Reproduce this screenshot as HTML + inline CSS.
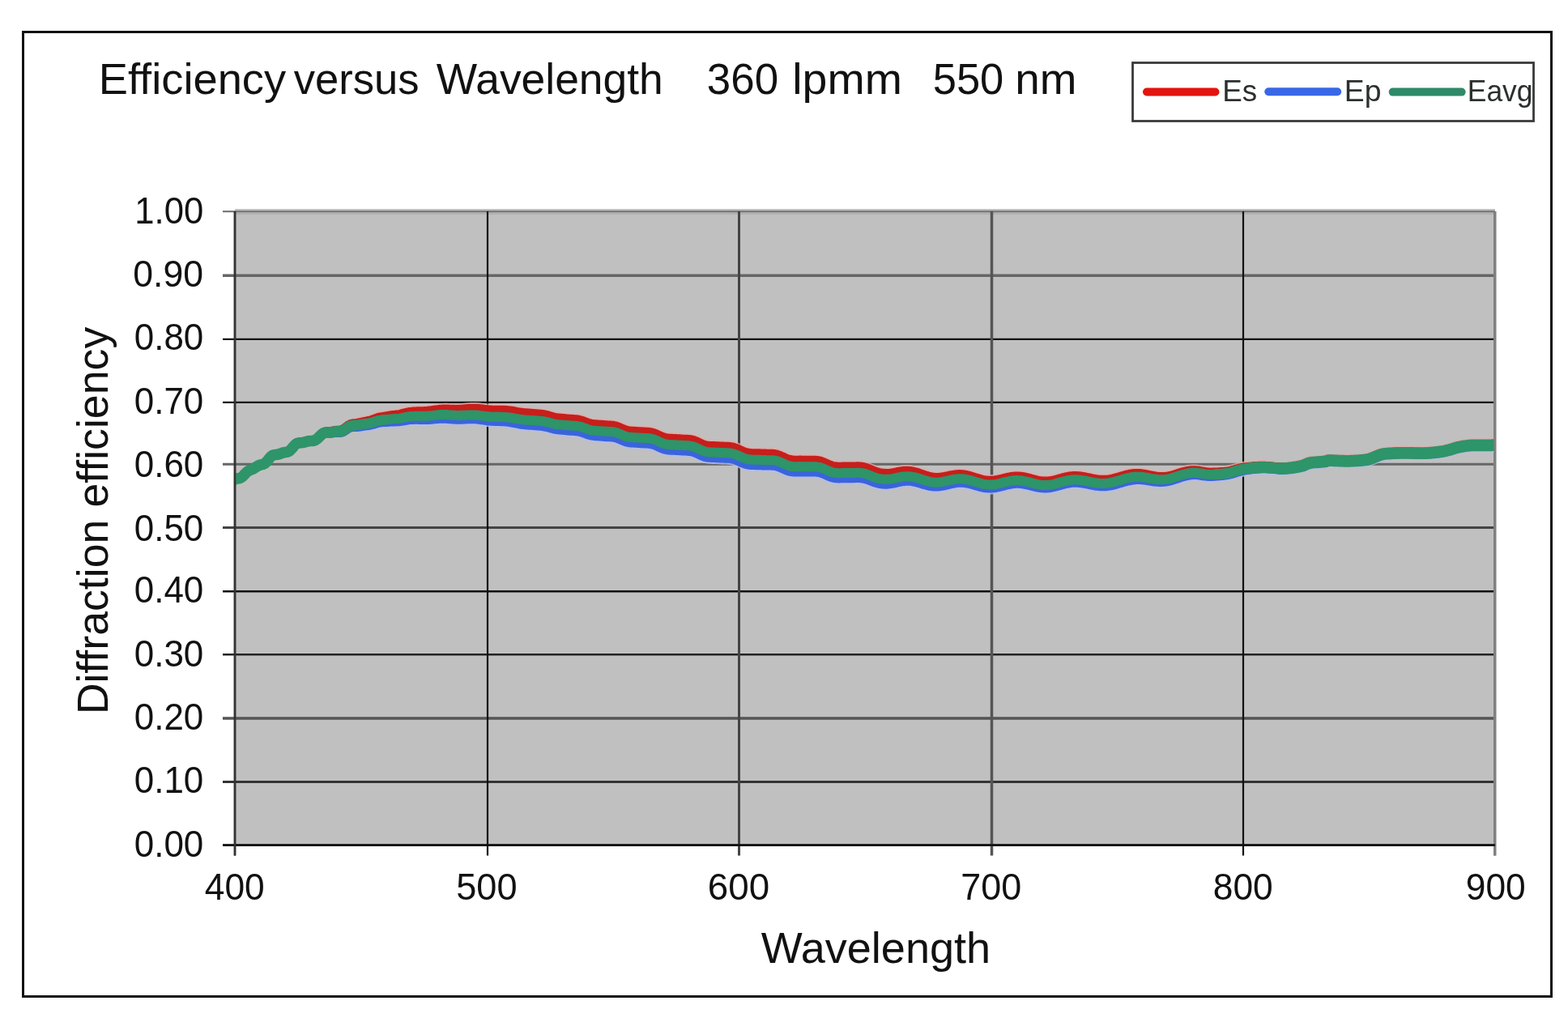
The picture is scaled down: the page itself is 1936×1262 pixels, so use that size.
<!DOCTYPE html>
<html><head><meta charset="utf-8"><title>Efficiency versus Wavelength</title>
<style>html,body{margin:0;padding:0;background:#fff;width:1936px;height:1262px;overflow:hidden}svg{display:block}text{font-family:'Liberation Sans', Arial, Helvetica, sans-serif;fill:#111;font-variant-ligatures:none}</style>
</head><body>
<svg width="1936" height="1262" viewBox="0 0 1936 1262"><defs><clipPath id="pc"><rect x="290" y="250" width="1556" height="800"/></clipPath></defs><rect x="0" y="0" width="1936" height="1262" fill="#fff"/><rect x="28.5" y="39.5" width="1887" height="1191" fill="none" stroke="#111" stroke-width="3"/><rect x="290.0" y="258" width="1556.0" height="785.5" fill="#c0c0c0"/><rect x="290.0" y="262" width="1556.0" height="3" fill="#b2b2b2"/><line x1="275.0" y1="1043.7" x2="1846.0" y2="1043.7" stroke="#111" stroke-width="2.5"/><line x1="275.0" y1="965.6" x2="1846.0" y2="965.6" stroke="#333" stroke-width="3"/><line x1="275.0" y1="886.9" x2="1846.0" y2="886.9" stroke="#555" stroke-width="3.5"/><line x1="275.0" y1="808.2" x2="1846.0" y2="808.2" stroke="#222" stroke-width="2.5"/><line x1="275.0" y1="730.3" x2="1846.0" y2="730.3" stroke="#111" stroke-width="2.5"/><line x1="275.0" y1="651.5" x2="1846.0" y2="651.5" stroke="#444" stroke-width="3"/><line x1="275.0" y1="573.2" x2="1846.0" y2="573.2" stroke="#666" stroke-width="3"/><line x1="275.0" y1="496.8" x2="1846.0" y2="496.8" stroke="#111" stroke-width="2.2"/><line x1="275.0" y1="418.8" x2="1846.0" y2="418.8" stroke="#111" stroke-width="2.2"/><line x1="275.0" y1="340.3" x2="1846.0" y2="340.3" stroke="#666" stroke-width="3.5"/><line x1="275.0" y1="261.1" x2="1846.0" y2="261.1" stroke="#7a7a7a" stroke-width="2.2"/><line x1="290" y1="261.1" x2="290" y2="1056.5" stroke="#333" stroke-width="2.5"/><line x1="602" y1="261.1" x2="602" y2="1056.5" stroke="#111" stroke-width="2.2"/><line x1="912.5" y1="261.1" x2="912.5" y2="1056.5" stroke="#444" stroke-width="3"/><line x1="1224.5" y1="261.1" x2="1224.5" y2="1056.5" stroke="#555" stroke-width="3.5"/><line x1="1535" y1="261.1" x2="1535" y2="1056.5" stroke="#111" stroke-width="2.2"/><line x1="1845.5" y1="261.1" x2="1845.5" y2="1056.5" stroke="#808080" stroke-width="3"/><g clip-path="url(#pc)" fill="none" stroke-linejoin="round"><polyline points="440.0,521.82 441.5,521.60 443.0,521.32 444.5,520.98 446.0,520.63 447.5,520.28 449.0,519.94 450.5,519.62 452.0,519.34 453.5,519.07 455.0,518.78 456.5,518.44 458.0,518.05 459.5,517.58 461.0,517.05 462.5,516.48 464.0,515.91 465.5,515.36 467.0,514.87 468.5,514.46 470.0,514.13 471.5,513.86 473.0,513.63 474.5,513.43 476.0,513.22 477.5,513.00 479.0,512.76 480.5,512.51 482.0,512.27 483.5,512.06 485.0,511.86 486.5,511.68 488.0,511.51 489.5,511.33 491.0,511.12 492.5,510.86 494.0,510.56 495.5,510.21 497.0,509.82 498.5,509.42 500.0,509.02 501.5,508.67 503.0,508.35 504.5,508.08 506.0,507.85 507.5,507.65 509.0,507.49 510.5,507.36 512.0,507.25 513.5,507.17 515.0,507.11 516.5,507.06 518.0,507.03 519.5,507.01 521.0,506.98 522.5,506.94 524.0,506.88 525.5,506.79 527.0,506.68 528.5,506.55 530.0,506.39 531.5,506.20 533.0,506.00 534.5,505.78 536.0,505.56 537.5,505.34 539.0,505.12 540.5,504.92 542.0,504.75 543.5,504.60 545.0,504.49 546.5,504.40 548.0,504.36 549.5,504.34 551.0,504.34 552.5,504.37 554.0,504.41 555.5,504.46 557.0,504.52 558.5,504.58 560.0,504.63 561.5,504.66 563.0,504.68 564.5,504.67 566.0,504.64 567.5,504.58 569.0,504.50 570.5,504.40 572.0,504.28 573.5,504.15 575.0,504.01 576.5,503.88 578.0,503.75 579.5,503.64 581.0,503.55 582.5,503.48 584.0,503.45 585.5,503.44 587.0,503.47 588.5,503.52 590.0,503.61 591.5,503.76 593.0,503.93 594.5,504.11 596.0,504.30 597.5,504.50 599.0,504.68 600.5,504.85 602.0,505.01 603.5,505.15 605.0,505.26 606.5,505.35 608.0,505.42 609.5,505.46 611.0,505.48 612.5,505.49 614.0,505.49 615.5,505.49 617.0,505.50 618.5,505.52 620.0,505.54 621.5,505.59 623.0,505.65 624.5,505.73 626.0,505.84 627.5,505.97 629.0,506.14 630.5,506.33 632.0,506.55 633.5,506.80 635.0,507.06 636.5,507.34 638.0,507.63 639.5,507.90 641.0,508.15 642.5,508.39 644.0,508.59 645.5,508.76 647.0,508.90 648.5,509.02 650.0,509.13 651.5,509.24 653.0,509.36 654.5,509.47 656.0,509.59 657.5,509.72 659.0,509.84 660.5,509.97 662.0,510.09 663.5,510.21 665.0,510.34 666.5,510.47 668.0,510.63 669.5,510.81 671.0,511.03 672.5,511.30 674.0,511.61 675.5,511.96 677.0,512.36 678.5,512.78 680.0,513.21 681.5,513.64 683.0,514.04 684.5,514.40 686.0,514.71 687.5,514.97 689.0,515.18 690.5,515.35 692.0,515.50 693.5,515.63 695.0,515.76 696.5,515.89 698.0,516.03 699.5,516.17 701.0,516.31 702.5,516.44 704.0,516.56 705.5,516.66 707.0,516.76 708.5,516.85 710.0,516.96 711.5,517.10 713.0,517.29 714.5,517.55 716.0,517.88 717.5,518.28 719.0,518.75 720.5,519.28 722.0,519.84 723.5,520.41 725.0,520.97 726.5,521.48 728.0,521.93 729.5,522.31 731.0,522.61 732.5,522.84 734.0,523.00 735.5,523.13 737.0,523.23 738.5,523.32 740.0,523.42 741.5,523.52 743.0,523.64 744.5,523.76 746.0,523.88 747.5,523.99 749.0,524.09 750.5,524.17 752.0,524.24 753.5,524.33 755.0,524.43 756.5,524.59 758.0,524.82 759.5,525.13 761.0,525.53 762.5,526.03 764.0,526.61 765.5,527.26 767.0,527.93 768.5,528.60 770.0,529.24 771.5,529.82 773.0,530.32 774.5,530.72 776.0,531.02 777.5,531.24 779.0,531.39 780.5,531.49 782.0,531.57 783.5,531.64 785.0,531.72 786.5,531.82 788.0,531.93 789.5,532.04 791.0,532.15 792.5,532.25 794.0,532.33 795.5,532.39 797.0,532.45 798.5,532.51 800.0,532.61 801.5,532.75 803.0,532.97 804.5,533.27 806.0,533.65 807.5,534.13 809.0,534.69 810.5,535.31 812.0,535.99 813.5,536.69 815.0,537.39 816.5,538.05 818.0,538.65 819.5,539.18 821.0,539.61 822.5,539.95 824.0,540.20 825.5,540.38 827.0,540.51 828.5,540.59 830.0,540.65 831.5,540.71 833.0,540.78 834.5,540.86 836.0,540.96 837.5,541.06 839.0,541.16 840.5,541.26 842.0,541.35 843.5,541.42 845.0,541.48 846.5,541.53 848.0,541.59 849.5,541.67 851.0,541.80 852.5,542.00 854.0,542.27 855.5,542.64 857.0,543.11 858.5,543.67 860.0,544.32 861.5,545.02 863.0,545.75 864.5,546.47 866.0,547.17 867.5,547.80 869.0,548.36 870.5,548.81 872.0,549.17 873.5,549.43 875.0,549.61 876.5,549.73 878.0,549.80 879.5,549.84 881.0,549.88 882.5,549.92 884.0,549.98 885.5,550.05 887.0,550.13 888.5,550.22 890.0,550.30 891.5,550.36 893.0,550.41 894.5,550.44 896.0,550.47 897.5,550.50 899.0,550.56 900.5,550.67 902.0,550.85 903.5,551.11 905.0,551.44 906.5,551.87 908.0,552.38 909.5,552.97 911.0,553.62 912.5,554.31 914.0,555.01 915.5,555.71 917.0,556.37 918.5,556.97 920.0,557.50 921.5,557.94 923.0,558.29 924.5,558.55 926.0,558.73 927.5,558.85 929.0,558.92 930.5,558.96 932.0,558.99 933.5,559.01 935.0,559.04 936.5,559.09 938.0,559.15 939.5,559.21 941.0,559.28 942.5,559.34 944.0,559.39 945.5,559.42 947.0,559.44 948.5,559.45 950.0,559.46 951.5,559.48 953.0,559.54 954.5,559.64 956.0,559.81 957.5,560.07 959.0,560.41 960.5,560.85 962.0,561.39 963.5,561.99 965.0,562.66 966.5,563.36 968.0,564.06 969.5,564.75 971.0,565.38 972.5,565.94 974.0,566.41 975.5,566.79 977.0,567.07 978.5,567.27 980.0,567.38 981.5,567.44 983.0,567.45 984.5,567.44 986.0,567.43 987.5,567.42 989.0,567.42 990.5,567.44 992.0,567.47 993.5,567.50 995.0,567.53 996.5,567.54 998.0,567.55 999.5,567.53 1001.0,567.51 1002.5,567.49 1004.0,567.47 1005.5,567.49 1007.0,567.55 1008.5,567.68 1010.0,567.89 1011.5,568.19 1013.0,568.58 1014.5,569.06 1016.0,569.62 1017.5,570.25 1019.0,570.92 1020.5,571.61 1022.0,572.30 1023.5,572.95 1025.0,573.55 1026.5,574.08 1028.0,574.52 1029.5,574.87 1031.0,575.13 1032.5,575.30 1034.0,575.40 1035.5,575.44 1037.0,575.45 1038.5,575.43 1040.0,575.41 1041.5,575.38 1043.0,575.37 1044.5,575.37 1046.0,575.38 1047.5,575.39 1049.0,575.39 1050.5,575.39 1052.0,575.37 1053.5,575.33 1055.0,575.27 1056.5,575.22 1058.0,575.17 1059.5,575.15 1061.0,575.20 1062.5,575.32 1064.0,575.51 1065.5,575.77 1067.0,576.11 1068.5,576.53 1070.0,577.02 1071.5,577.57 1073.0,578.17 1074.5,578.79 1076.0,579.43 1077.5,580.05 1079.0,580.65 1080.5,581.22 1082.0,581.73 1083.5,582.18 1085.0,582.57 1086.5,582.90 1088.0,583.17 1089.5,583.39 1091.0,583.55 1092.5,583.67 1094.0,583.73 1095.5,583.74 1097.0,583.68 1098.5,583.56 1100.0,583.39 1101.5,583.17 1103.0,582.92 1104.5,582.64 1106.0,582.34 1107.5,582.04 1109.0,581.73 1110.5,581.45 1112.0,581.18 1113.5,580.95 1115.0,580.76 1116.5,580.61 1118.0,580.53 1119.5,580.51 1121.0,580.55 1122.5,580.66 1124.0,580.83 1125.5,581.05 1127.0,581.33 1128.5,581.66 1130.0,582.03 1131.5,582.45 1133.0,582.90 1134.5,583.38 1136.0,583.88 1137.5,584.40 1139.0,584.92 1140.5,585.43 1142.0,585.94 1143.5,586.42 1145.0,586.87 1146.5,587.29 1148.0,587.67 1149.5,588.00 1151.0,588.26 1152.5,588.46 1154.0,588.61 1155.5,588.69 1157.0,588.71 1158.5,588.67 1160.0,588.57 1161.5,588.43 1163.0,588.23 1164.5,588.00 1166.0,587.74 1167.5,587.44 1169.0,587.14 1170.5,586.82 1172.0,586.50 1173.5,586.19 1175.0,585.89 1176.5,585.62 1178.0,585.38 1179.5,585.19 1181.0,585.03 1182.5,584.93 1184.0,584.88 1185.5,584.89 1187.0,584.96 1188.5,585.09 1190.0,585.27 1191.5,585.50 1193.0,585.78 1194.5,586.11 1196.0,586.49 1197.5,586.90 1199.0,587.34 1200.5,587.79 1202.0,588.25 1203.5,588.71 1205.0,589.18 1206.5,589.64 1208.0,590.09 1209.5,590.52 1211.0,590.93 1212.5,591.30 1214.0,591.63 1215.5,591.91 1217.0,592.15 1218.5,592.34 1220.0,592.47 1221.5,592.54 1223.0,592.56 1224.5,592.52 1226.0,592.42 1227.5,592.27 1229.0,592.08 1230.5,591.84 1232.0,591.56 1233.5,591.24 1235.0,590.90 1236.5,590.54 1238.0,590.17 1239.5,589.79 1241.0,589.41 1242.5,589.05 1244.0,588.70 1245.5,588.38 1247.0,588.09 1248.5,587.83 1250.0,587.62 1251.5,587.45 1253.0,587.33 1254.5,587.27 1256.0,587.26 1257.5,587.31 1259.0,587.40 1260.5,587.55 1262.0,587.75 1263.5,587.99 1265.0,588.27 1266.5,588.59 1268.0,588.94 1269.5,589.32 1271.0,589.71 1272.5,590.11 1274.0,590.52 1275.5,590.92 1277.0,591.32 1278.5,591.69 1280.0,592.04 1281.5,592.36 1283.0,592.64 1284.5,592.88 1286.0,593.08 1287.5,593.22 1289.0,593.31 1290.5,593.34 1292.0,593.32 1293.5,593.25 1295.0,593.12 1296.5,592.94 1298.0,592.71 1299.5,592.43 1301.0,592.12 1302.5,591.77 1304.0,591.40 1305.5,591.00 1307.0,590.59 1308.5,590.17 1310.0,589.74 1311.5,589.33 1313.0,588.92 1314.5,588.54 1316.0,588.18 1317.5,587.86 1319.0,587.57 1320.5,587.33 1322.0,587.13 1323.5,586.99 1325.0,586.89 1326.5,586.85 1328.0,586.85 1329.5,586.90 1331.0,586.99 1332.5,587.12 1334.0,587.29 1335.5,587.50 1337.0,587.73 1338.5,587.99 1340.0,588.28 1341.5,588.58 1343.0,588.90 1344.5,589.22 1346.0,589.54 1347.5,589.86 1349.0,590.17 1350.5,590.46 1352.0,590.73 1353.5,590.97 1355.0,591.18 1356.5,591.36 1358.0,591.50 1359.5,591.59 1361.0,591.65 1362.5,591.65 1364.0,591.61 1365.5,591.53 1367.0,591.39 1368.5,591.21 1370.0,590.99 1371.5,590.73 1373.0,590.42 1374.5,590.09 1376.0,589.72 1377.5,589.32 1379.0,588.91 1380.5,588.48 1382.0,588.03 1383.5,587.59 1385.0,587.14 1386.5,586.70 1388.0,586.27 1389.5,585.86 1391.0,585.48 1392.5,585.12 1394.0,584.79 1395.5,584.50 1397.0,584.25 1398.5,584.03 1400.0,583.87 1401.5,583.77 1403.0,583.72 1404.5,583.72 1406.0,583.78 1407.5,583.88 1409.0,584.03 1410.5,584.22 1412.0,584.44 1413.5,584.70 1415.0,584.98 1416.5,585.28 1418.0,585.59 1419.5,585.91 1421.0,586.22 1422.5,586.52 1424.0,586.80 1425.5,587.06 1427.0,587.29 1428.5,587.49 1430.0,587.65 1431.5,587.76 1433.0,587.84 1434.5,587.86 1436.0,587.84 1437.5,587.77 1439.0,587.65 1440.5,587.48 1442.0,587.24 1443.5,586.97 1445.0,586.64 1446.5,586.28 1448.0,585.88 1449.5,585.45 1451.0,584.99 1452.5,584.52 1454.0,584.04 1455.5,583.55 1457.0,583.08 1458.5,582.61 1460.0,582.17 1461.5,581.75 1463.0,581.37 1464.5,581.03 1466.0,580.74 1467.5,580.49 1469.0,580.29 1470.5,580.14 1472.0,580.04 1473.5,579.98 1475.0,579.96 1476.5,580.03 1478.0,580.17 1479.5,580.37 1481.0,580.60 1482.5,580.85 1484.0,581.13 1485.5,581.40 1487.0,581.66 1488.5,581.89 1490.0,582.09 1491.5,582.25 1493.0,582.37 1494.5,582.45 1496.0,582.45 1497.5,582.42 1499.0,582.37 1500.5,582.31 1502.0,582.25 1503.5,582.17 1505.0,582.09 1506.5,582.00 1508.0,581.90 1509.5,581.80 1511.0,581.70 1512.5,581.59 1514.0,581.46 1515.5,581.26 1517.0,581.00 1518.5,580.68 1520.0,580.32 1521.5,579.93 1523.0,579.51 1524.5,579.07 1526.0,578.63 1527.5,578.20 1529.0,577.78 1530.5,577.38 1532.0,577.02 1533.5,576.71 1535.0,576.44 1536.5,576.24 1538.0,576.08 1539.5,575.91 1541.0,575.75 1542.5,575.58 1544.0,575.42 1545.5,575.27 1547.0,575.13 1548.5,575.00 1550.0,574.88 1551.5,574.77 1553.0,574.69 1554.5,574.61 1556.0,574.56 1557.5,574.53 1559.0,574.53 1560.5,574.54 1562.0,574.59 1563.5,574.68 1565.0,574.78 1566.5,574.91 1568.0,575.06 1569.5,575.21 1571.0,575.37 1572.5,575.54 1574.0,575.69 1575.5,575.85 1577.0,575.98 1578.5,576.10 1580.0,576.20 1581.5,576.27 1583.0,576.30 1584.5,576.30 1586.0,576.27 1587.5,576.21 1589.0,576.13 1590.5,576.02 1592.0,575.88 1593.5,575.73 1595.0,575.55 1596.5,575.36 1598.0,575.14 1599.5,574.92 1601.0,574.67 1602.5,574.41 1604.0,574.13 1605.5,573.85 1607.0,573.55 1608.5,573.09 1610.0,572.51 1611.5,571.85 1613.0,571.18 1614.5,570.54 1616.0,569.99 1617.5,569.59 1619.0,569.35 1620.5,569.16 1622.0,569.00 1623.5,568.87 1625.0,568.77 1626.5,568.67 1628.0,568.58 1629.5,568.48 1631.0,568.37 1632.5,568.24 1634.0,568.08 1635.5,567.89 1637.0,567.65 1638.5,567.12 1640.0,566.60 1641.5,566.61 1643.0,566.63 1644.5,566.67 1646.0,566.72 1647.5,566.77 1649.0,566.84 1650.5,566.90 1652.0,566.97 1653.5,567.04 1655.0,567.10 1656.5,567.16 1658.0,567.22 1659.5,567.26 1661.0,567.29 1662.5,567.30 1664.0,567.30 1665.5,567.28 1667.0,567.24 1668.5,567.20 1670.0,567.14 1671.5,567.06 1673.0,566.98 1674.5,566.88 1676.0,566.77 1677.5,566.66 1679.0,566.53 1680.5,566.40 1682.0,566.26 1683.5,566.11 1685.0,565.96 1686.5,565.80 1688.0,565.58 1689.5,565.25 1691.0,564.82 1692.5,564.32 1694.0,563.76 1695.5,563.16 1697.0,562.52 1698.5,561.88 1700.0,561.24 1701.5,560.63 1703.0,560.05 1704.5,559.54 1706.0,559.09 1707.5,558.73 1709.0,558.48 1710.5,558.34 1712.0,558.22 1713.5,558.11 1715.0,558.00 1716.5,557.90 1718.0,557.80 1719.5,557.71 1721.0,557.63 1722.5,557.56 1724.0,557.49 1725.5,557.44 1727.0,557.39 1728.5,557.35 1730.0,557.32 1731.5,557.31 1733.0,557.30 1734.5,557.30 1736.0,557.32 1737.5,557.34 1739.0,557.37 1740.5,557.40 1742.0,557.43 1743.5,557.47 1745.0,557.51 1746.5,557.55 1748.0,557.58 1749.5,557.62 1751.0,557.65 1752.5,557.67 1754.0,557.69 1755.5,557.70 1757.0,557.70 1758.5,557.67 1760.0,557.63 1761.5,557.56 1763.0,557.48 1764.5,557.37 1766.0,557.25 1767.5,557.12 1769.0,556.97 1770.5,556.81 1772.0,556.64 1773.5,556.46 1775.0,556.28 1776.5,556.09 1778.0,555.90 1779.5,555.70 1781.0,555.48 1782.5,555.20 1784.0,554.88 1785.5,554.54 1787.0,554.17 1788.5,553.80 1790.0,553.42 1791.5,553.00 1793.0,552.53 1794.5,552.03 1796.0,551.52 1797.5,551.04 1799.0,550.59 1800.5,550.22 1802.0,549.93 1803.5,549.67 1805.0,549.41 1806.5,549.16 1808.0,548.93 1809.5,548.70 1811.0,548.50 1812.5,548.32 1814.0,548.16 1815.5,548.04 1817.0,547.96 1818.5,547.91 1820.0,547.90 1821.5,547.90 1823.0,547.90 1824.5,547.90 1826.0,547.90 1827.5,547.90 1829.0,547.90 1830.5,547.90 1832.0,547.90 1833.5,547.90 1835.0,547.90 1836.5,547.90 1838.0,547.89 1839.5,547.86 1841.0,547.80 1842.5,547.72 1844.0,547.62 1845.5,547.53 1847.0,547.44" stroke="#e8a8a4" stroke-width="13" opacity="0.8"/><polyline points="440.0,528.42 441.5,528.30 443.0,528.12 444.5,527.88 446.0,527.63 447.5,527.38 449.0,527.14 450.5,526.92 452.0,526.74 453.5,526.57 455.0,526.38 456.5,526.14 458.0,525.85 459.5,525.48 461.0,525.05 462.5,524.58 464.0,524.11 465.5,523.66 467.0,523.27 468.5,522.96 470.0,522.73 471.5,522.60 473.0,522.51 474.5,522.45 476.0,522.38 477.5,522.30 479.0,522.20 480.5,522.09 482.0,521.99 483.5,521.92 485.0,521.86 486.5,521.82 488.0,521.79 489.5,521.75 491.0,521.68 492.5,521.56 494.0,521.40 495.5,521.19 497.0,520.94 498.5,520.68 500.0,520.42 501.5,520.14 503.0,519.90 504.5,519.70 506.0,519.55 507.5,519.43 509.0,519.34 510.5,519.29 512.0,519.25 513.5,519.24 515.0,519.26 516.5,519.29 518.0,519.33 519.5,519.38 521.0,519.43 522.5,519.46 524.0,519.48 525.5,519.47 527.0,519.43 528.5,519.37 530.0,519.29 531.5,519.18 533.0,519.05 534.5,518.91 536.0,518.76 537.5,518.61 539.0,518.47 540.5,518.35 542.0,518.25 543.5,518.18 545.0,518.14 546.5,518.13 548.0,518.16 549.5,518.21 551.0,518.28 552.5,518.36 554.0,518.46 555.5,518.57 557.0,518.69 558.5,518.80 560.0,518.90 561.5,519.00 563.0,519.07 564.5,519.12 566.0,519.14 567.5,519.14 569.0,519.11 570.5,519.07 572.0,519.01 573.5,518.93 575.0,518.85 576.5,518.77 578.0,518.70 579.5,518.65 581.0,518.61 582.5,518.60 584.0,518.62 585.5,518.67 587.0,518.76 588.5,518.87 590.0,519.01 591.5,519.19 593.0,519.40 594.5,519.61 596.0,519.83 597.5,520.06 599.0,520.28 600.5,520.48 602.0,520.67 603.5,520.84 605.0,520.99 606.5,521.11 608.0,521.21 609.5,521.28 611.0,521.33 612.5,521.38 614.0,521.41 615.5,521.45 617.0,521.48 618.5,521.53 620.0,521.59 621.5,521.67 623.0,521.76 624.5,521.88 626.0,522.02 627.5,522.18 629.0,522.38 630.5,522.61 632.0,522.86 633.5,523.14 635.0,523.44 636.5,523.75 638.0,524.07 639.5,524.37 641.0,524.66 642.5,524.92 644.0,525.16 645.5,525.36 647.0,525.54 648.5,525.69 650.0,525.83 651.5,525.94 653.0,526.05 654.5,526.16 656.0,526.27 657.5,526.39 659.0,526.51 660.5,526.63 662.0,526.74 663.5,526.86 665.0,526.98 666.5,527.11 668.0,527.26 669.5,527.43 671.0,527.65 672.5,527.91 674.0,528.21 675.5,528.56 677.0,528.95 678.5,529.37 680.0,529.79 681.5,530.21 683.0,530.61 684.5,530.96 686.0,531.27 687.5,531.52 689.0,531.73 690.5,531.89 692.0,532.03 693.5,532.15 695.0,532.28 696.5,532.40 698.0,532.54 699.5,532.68 701.0,532.81 702.5,532.94 704.0,533.06 705.5,533.16 707.0,533.25 708.5,533.34 710.0,533.45 711.5,533.59 713.0,533.78 714.5,534.03 716.0,534.36 717.5,534.76 719.0,535.23 720.5,535.76 722.0,536.32 723.5,536.89 725.0,537.44 726.5,537.96 728.0,538.41 729.5,538.78 731.0,539.08 732.5,539.30 734.0,539.47 735.5,539.59 737.0,539.69 738.5,539.78 740.0,539.88 741.5,539.98 743.0,540.10 744.5,540.22 746.0,540.34 747.5,540.44 749.0,540.54 750.5,540.62 752.0,540.69 753.5,540.77 755.0,540.88 756.5,541.03 758.0,541.26 759.5,541.57 761.0,541.97 762.5,542.47 764.0,543.05 765.5,543.69 767.0,544.36 768.5,545.03 770.0,545.67 771.5,546.25 773.0,546.74 774.5,547.14 776.0,547.44 777.5,547.66 779.0,547.81 780.5,547.91 782.0,547.99 783.5,548.06 785.0,548.14 786.5,548.23 788.0,548.34 789.5,548.45 791.0,548.56 792.5,548.65 794.0,548.73 795.5,548.79 797.0,548.85 798.5,548.91 800.0,549.01 801.5,549.16 803.0,549.38 804.5,549.68 806.0,550.06 807.5,550.54 809.0,551.10 810.5,551.73 812.0,552.41 813.5,553.12 815.0,553.82 816.5,554.48 818.0,555.09 819.5,555.62 821.0,556.05 822.5,556.40 824.0,556.65 825.5,556.83 827.0,556.96 828.5,557.05 830.0,557.11 831.5,557.18 833.0,557.25 834.5,557.33 836.0,557.43 837.5,557.53 839.0,557.64 840.5,557.74 842.0,557.83 843.5,557.91 845.0,557.97 846.5,558.02 848.0,558.09 849.5,558.17 851.0,558.30 852.5,558.50 854.0,558.78 855.5,559.15 857.0,559.62 858.5,560.19 860.0,560.84 861.5,561.54 863.0,562.27 864.5,563.00 866.0,563.70 867.5,564.34 869.0,564.89 870.5,565.36 872.0,565.72 873.5,565.98 875.0,566.16 876.5,566.28 878.0,566.35 879.5,566.40 881.0,566.44 882.5,566.49 884.0,566.55 885.5,566.62 887.0,566.71 888.5,566.80 890.0,566.88 891.5,566.95 893.0,567.00 894.5,567.03 896.0,567.06 897.5,567.10 899.0,567.16 900.5,567.27 902.0,567.45 903.5,567.70 905.0,568.03 906.5,568.45 908.0,568.96 909.5,569.55 911.0,570.19 912.5,570.88 914.0,571.58 915.5,572.28 917.0,572.93 918.5,573.53 920.0,574.06 921.5,574.49 923.0,574.84 924.5,575.10 926.0,575.28 927.5,575.40 929.0,575.46 930.5,575.50 932.0,575.52 933.5,575.54 935.0,575.57 936.5,575.62 938.0,575.67 939.5,575.73 941.0,575.80 942.5,575.86 944.0,575.90 945.5,575.93 947.0,575.95 948.5,575.95 950.0,575.96 951.5,575.98 953.0,576.03 954.5,576.13 956.0,576.30 957.5,576.55 959.0,576.90 960.5,577.33 962.0,577.86 963.5,578.47 965.0,579.13 966.5,579.83 968.0,580.53 969.5,581.21 971.0,581.84 972.5,582.39 974.0,582.87 975.5,583.24 977.0,583.52 978.5,583.71 980.0,583.82 981.5,583.88 983.0,583.89 984.5,583.88 986.0,583.86 987.5,583.84 989.0,583.84 990.5,583.86 992.0,583.88 993.5,583.91 995.0,583.94 996.5,583.95 998.0,583.95 999.5,583.94 1001.0,583.91 1002.5,583.88 1004.0,583.87 1005.5,583.88 1007.0,583.94 1008.5,584.07 1010.0,584.28 1011.5,584.57 1013.0,584.96 1014.5,585.43 1016.0,585.99 1017.5,586.62 1019.0,587.29 1020.5,587.98 1022.0,588.66 1023.5,589.31 1025.0,589.91 1026.5,590.44 1028.0,590.87 1029.5,591.22 1031.0,591.47 1032.5,591.64 1034.0,591.74 1035.5,591.78 1037.0,591.79 1038.5,591.77 1040.0,591.74 1041.5,591.71 1043.0,591.70 1044.5,591.70 1046.0,591.70 1047.5,591.71 1049.0,591.71 1050.5,591.71 1052.0,591.68 1053.5,591.64 1055.0,591.58 1056.5,591.52 1058.0,591.47 1059.5,591.45 1061.0,591.47 1062.5,591.55 1064.0,591.70 1065.5,591.92 1067.0,592.21 1068.5,592.59 1070.0,593.04 1071.5,593.54 1073.0,594.10 1074.5,594.68 1076.0,595.27 1077.5,595.86 1079.0,596.42 1080.5,596.93 1082.0,597.40 1083.5,597.81 1085.0,598.16 1086.5,598.45 1088.0,598.68 1089.5,598.85 1091.0,598.98 1092.5,599.05 1094.0,599.07 1095.5,599.04 1097.0,598.93 1098.5,598.77 1100.0,598.56 1101.5,598.30 1103.0,598.00 1104.5,597.68 1106.0,597.34 1107.5,596.99 1109.0,596.65 1110.5,596.31 1112.0,596.01 1113.5,595.73 1115.0,595.50 1116.5,595.31 1118.0,595.19 1119.5,595.12 1121.0,595.12 1122.5,595.17 1124.0,595.29 1125.5,595.45 1127.0,595.68 1128.5,595.95 1130.0,596.27 1131.5,596.63 1133.0,597.03 1134.5,597.46 1136.0,597.90 1137.5,598.36 1139.0,598.83 1140.5,599.29 1142.0,599.74 1143.5,600.17 1145.0,600.57 1146.5,600.93 1148.0,601.25 1149.5,601.53 1151.0,601.74 1152.5,601.89 1154.0,601.97 1155.5,602.00 1157.0,601.96 1158.5,601.87 1160.0,601.72 1161.5,601.52 1163.0,601.28 1164.5,600.99 1166.0,600.67 1167.5,600.32 1169.0,599.96 1170.5,599.59 1172.0,599.21 1173.5,598.85 1175.0,598.50 1176.5,598.17 1178.0,597.88 1179.5,597.63 1181.0,597.42 1182.5,597.27 1184.0,597.16 1185.5,597.12 1187.0,597.13 1188.5,597.20 1190.0,597.33 1191.5,597.51 1193.0,597.74 1194.5,598.01 1196.0,598.33 1197.5,598.69 1199.0,599.07 1200.5,599.48 1202.0,599.92 1203.5,600.37 1205.0,600.81 1206.5,601.26 1208.0,601.69 1209.5,602.10 1211.0,602.48 1212.5,602.83 1214.0,603.14 1215.5,603.41 1217.0,603.63 1218.5,603.79 1220.0,603.91 1221.5,603.96 1223.0,603.96 1224.5,603.90 1226.0,603.78 1227.5,603.62 1229.0,603.40 1230.5,603.14 1232.0,602.84 1233.5,602.51 1235.0,602.15 1236.5,601.77 1238.0,601.37 1239.5,600.98 1241.0,600.58 1242.5,600.20 1244.0,599.83 1245.5,599.49 1247.0,599.17 1248.5,598.90 1250.0,598.67 1251.5,598.48 1253.0,598.35 1254.5,598.26 1256.0,598.23 1257.5,598.26 1259.0,598.34 1260.5,598.46 1262.0,598.64 1263.5,598.86 1265.0,599.13 1266.5,599.43 1268.0,599.76 1269.5,600.11 1271.0,600.49 1272.5,600.87 1274.0,601.26 1275.5,601.64 1277.0,602.02 1278.5,602.37 1280.0,602.70 1281.5,603.00 1283.0,603.26 1284.5,603.48 1286.0,603.66 1287.5,603.78 1289.0,603.85 1290.5,603.87 1292.0,603.83 1293.5,603.73 1295.0,603.58 1296.5,603.38 1298.0,603.13 1299.5,602.84 1301.0,602.51 1302.5,602.16 1304.0,601.78 1305.5,601.37 1307.0,600.95 1308.5,600.52 1310.0,600.09 1311.5,599.67 1313.0,599.26 1314.5,598.87 1316.0,598.50 1317.5,598.17 1319.0,597.88 1320.5,597.63 1322.0,597.42 1323.5,597.27 1325.0,597.17 1326.5,597.12 1328.0,597.11 1329.5,597.15 1331.0,597.23 1332.5,597.36 1334.0,597.52 1335.5,597.72 1337.0,597.95 1338.5,598.20 1340.0,598.48 1341.5,598.78 1343.0,599.08 1344.5,599.40 1346.0,599.71 1347.5,600.02 1349.0,600.32 1350.5,600.60 1352.0,600.87 1353.5,601.10 1355.0,601.31 1356.5,601.48 1358.0,601.61 1359.5,601.70 1361.0,601.74 1362.5,601.74 1364.0,601.69 1365.5,601.60 1367.0,601.46 1368.5,601.27 1370.0,601.04 1371.5,600.77 1373.0,600.46 1374.5,600.11 1376.0,599.74 1377.5,599.34 1379.0,598.91 1380.5,598.47 1382.0,598.02 1383.5,597.57 1385.0,597.12 1386.5,596.67 1388.0,596.23 1389.5,595.82 1391.0,595.42 1392.5,595.06 1394.0,594.72 1395.5,594.42 1397.0,594.16 1398.5,593.94 1400.0,593.77 1401.5,593.61 1403.0,593.49 1404.5,593.43 1406.0,593.42 1407.5,593.46 1409.0,593.54 1410.5,593.67 1412.0,593.83 1413.5,594.03 1415.0,594.24 1416.5,594.48 1418.0,594.73 1419.5,594.98 1421.0,595.23 1422.5,595.46 1424.0,595.68 1425.5,595.88 1427.0,596.04 1428.5,596.18 1430.0,596.27 1431.5,596.33 1433.0,596.34 1434.5,596.30 1436.0,596.21 1437.5,596.08 1439.0,595.89 1440.5,595.67 1442.0,595.40 1443.5,595.10 1445.0,594.74 1446.5,594.35 1448.0,593.92 1449.5,593.46 1451.0,592.97 1452.5,592.47 1454.0,591.96 1455.5,591.44 1457.0,590.94 1458.5,590.44 1460.0,589.97 1461.5,589.52 1463.0,589.11 1464.5,588.74 1466.0,588.42 1467.5,588.14 1469.0,587.91 1470.5,587.73 1472.0,587.60 1473.5,587.51 1475.0,587.46 1476.5,587.50 1478.0,587.61 1479.5,587.78 1481.0,587.97 1482.5,588.18 1484.0,588.41 1485.5,588.63 1487.0,588.85 1488.5,589.04 1490.0,589.19 1491.5,589.30 1493.0,589.38 1494.5,589.42 1496.0,589.37 1497.5,589.29 1499.0,589.20 1500.5,589.10 1502.0,588.99 1503.5,588.87 1505.0,588.74 1506.5,588.61 1508.0,588.46 1509.5,588.32 1511.0,588.17 1512.5,588.01 1514.0,587.84 1515.5,587.59 1517.0,587.29 1518.5,586.93 1520.0,586.52 1521.5,586.08 1523.0,585.62 1524.5,585.14 1526.0,584.65 1527.5,584.17 1529.0,583.71 1530.5,583.27 1532.0,582.86 1533.5,582.50 1535.0,582.19 1536.5,581.95 1538.0,581.74 1539.5,581.53 1541.0,581.32 1542.5,581.12 1544.0,580.93 1545.5,580.74 1547.0,580.56 1548.5,580.40 1550.0,580.24 1551.5,580.11 1553.0,579.98 1554.5,579.88 1556.0,579.79 1557.5,579.72 1559.0,579.68 1560.5,579.66 1562.0,579.68 1563.5,579.73 1565.0,579.80 1566.5,579.89 1568.0,580.00 1569.5,580.12 1571.0,580.25 1572.5,580.38 1574.0,580.50 1575.5,580.62 1577.0,580.72 1578.5,580.80 1580.0,580.86 1581.5,580.90 1583.0,580.90 1584.5,580.86 1586.0,580.80 1587.5,580.71 1589.0,580.59 1590.5,580.44 1592.0,580.27 1593.5,580.08 1595.0,579.87 1596.5,579.64 1598.0,579.39 1599.5,579.13 1601.0,578.87 1602.5,578.61 1604.0,578.33 1605.5,578.05 1607.0,577.75 1608.5,577.29 1610.0,576.71 1611.5,576.05 1613.0,575.38 1614.5,574.74 1616.0,574.19 1617.5,573.79 1619.0,573.55 1620.5,573.36 1622.0,573.20 1623.5,573.07 1625.0,572.97 1626.5,572.87 1628.0,572.78 1629.5,572.68 1631.0,572.57 1632.5,572.44 1634.0,572.28 1635.5,572.09 1637.0,571.85 1638.5,571.32 1640.0,570.80 1641.5,570.81 1643.0,570.83 1644.5,570.87 1646.0,570.92 1647.5,570.97 1649.0,571.04 1650.5,571.10 1652.0,571.17 1653.5,571.24 1655.0,571.30 1656.5,571.36 1658.0,571.42 1659.5,571.46 1661.0,571.49 1662.5,571.50 1664.0,571.50 1665.5,571.48 1667.0,571.44 1668.5,571.40 1670.0,571.34 1671.5,571.26 1673.0,571.18 1674.5,571.08 1676.0,570.97 1677.5,570.86 1679.0,570.73 1680.5,570.60 1682.0,570.46 1683.5,570.31 1685.0,570.16 1686.5,570.00 1688.0,569.78 1689.5,569.45 1691.0,569.02 1692.5,568.52 1694.0,567.96 1695.5,567.36 1697.0,566.72 1698.5,566.08 1700.0,565.44 1701.5,564.83 1703.0,564.25 1704.5,563.74 1706.0,563.29 1707.5,562.93 1709.0,562.68 1710.5,562.54 1712.0,562.42 1713.5,562.31 1715.0,562.20 1716.5,562.10 1718.0,562.00 1719.5,561.91 1721.0,561.83 1722.5,561.76 1724.0,561.69 1725.5,561.64 1727.0,561.59 1728.5,561.55 1730.0,561.52 1731.5,561.51 1733.0,561.50 1734.5,561.50 1736.0,561.52 1737.5,561.54 1739.0,561.57 1740.5,561.60 1742.0,561.63 1743.5,561.67 1745.0,561.71 1746.5,561.75 1748.0,561.78 1749.5,561.82 1751.0,561.85 1752.5,561.87 1754.0,561.89 1755.5,561.90 1757.0,561.90 1758.5,561.87 1760.0,561.83 1761.5,561.76 1763.0,561.68 1764.5,561.57 1766.0,561.45 1767.5,561.32 1769.0,561.17 1770.5,561.01 1772.0,560.84 1773.5,560.66 1775.0,560.48 1776.5,560.29 1778.0,560.10 1779.5,559.90 1781.0,559.68 1782.5,559.40 1784.0,559.08 1785.5,558.74 1787.0,558.37 1788.5,558.00 1790.0,557.62 1791.5,557.20 1793.0,556.73 1794.5,556.23 1796.0,555.72 1797.5,555.24 1799.0,554.79 1800.5,554.42 1802.0,554.13 1803.5,553.87 1805.0,553.61 1806.5,553.36 1808.0,553.13 1809.5,552.90 1811.0,552.70 1812.5,552.52 1814.0,552.36 1815.5,552.24 1817.0,552.16 1818.5,552.11 1820.0,552.10 1821.5,552.10 1823.0,552.10 1824.5,552.10 1826.0,552.10 1827.5,552.10 1829.0,552.10 1830.5,552.10 1832.0,552.10 1833.5,552.10 1835.0,552.10 1836.5,552.10 1838.0,552.09 1839.5,552.06 1841.0,552.00 1842.5,551.92 1844.0,551.82 1845.5,551.73 1847.0,551.64" stroke="#b4bcec" stroke-width="13" opacity="0.8"/><polyline points="284.0,597.74 285.5,595.66 287.0,593.90 288.5,592.52 290.0,591.59 291.5,591.08 293.0,590.85 294.5,590.71 296.0,590.42 297.5,589.79 299.0,588.74 300.5,587.32 302.0,585.70 303.5,584.09 305.0,582.69 306.5,581.57 308.0,580.74 309.5,580.11 311.0,579.54 312.5,578.87 314.0,578.04 315.5,577.05 317.0,576.02 318.5,575.10 320.0,574.39 321.5,573.91 323.0,573.56 324.5,573.17 326.0,572.56 327.5,571.56 329.0,570.15 330.5,568.39 332.0,566.50 333.5,564.71 335.0,563.24 336.5,562.21 338.0,561.63 339.5,561.37 341.0,561.24 342.5,561.06 344.0,560.72 345.5,560.21 347.0,559.61 348.5,559.05 350.0,558.61 351.5,558.33 353.0,558.14 354.5,557.86 356.0,557.34 357.5,556.41 359.0,555.06 360.5,553.35 362.0,551.50 363.5,549.75 365.0,548.31 366.5,547.31 368.0,546.76 369.5,546.52 371.0,546.38 372.5,546.25 374.0,546.03 375.5,545.71 377.0,545.30 378.5,544.86 380.0,544.49 381.5,544.23 383.0,544.09 384.5,544.01 386.0,543.90 387.5,543.64 389.0,543.10 390.5,542.23 392.0,541.03 393.5,539.60 395.0,538.05 396.5,536.58 398.0,535.32 399.5,534.38 401.0,533.75 402.5,533.42 404.0,533.30 405.5,533.26 407.0,533.20 408.5,533.03 410.0,532.76 411.5,532.42 413.0,532.09 414.5,531.84 416.0,531.70 417.5,531.63 419.0,531.55 420.5,531.36 422.0,530.97 423.5,530.32 425.0,529.42 426.5,528.32 428.0,527.14 429.5,526.00 431.0,525.02 432.5,524.27 434.0,523.76 435.5,523.46 437.0,523.29 438.5,523.16 440.0,523.02 441.5,522.80 443.0,522.52 444.5,522.18 446.0,521.83 447.5,521.48 449.0,521.14 450.5,520.82 452.0,520.54 453.5,520.27 455.0,519.98 456.5,519.64 458.0,519.25 459.5,518.78 461.0,518.25 462.5,517.68 464.0,517.11 465.5,516.56 467.0,516.07 468.5,515.66 470.0,515.33 471.5,515.06 473.0,514.83 474.5,514.63 476.0,514.42 477.5,514.20 479.0,513.96 480.5,513.71 482.0,513.47 483.5,513.26 485.0,513.06 486.5,512.88 488.0,512.71 489.5,512.53 491.0,512.32 492.5,512.06 494.0,511.76 495.5,511.41 497.0,511.02 498.5,510.62 500.0,510.22 501.5,509.87 503.0,509.55 504.5,509.28 506.0,509.05 507.5,508.85 509.0,508.69 510.5,508.56 512.0,508.45 513.5,508.37 515.0,508.31 516.5,508.26 518.0,508.23 519.5,508.21 521.0,508.18 522.5,508.14 524.0,508.08 525.5,507.99 527.0,507.88 528.5,507.75 530.0,507.59 531.5,507.40 533.0,507.20 534.5,506.98 536.0,506.76 537.5,506.54 539.0,506.32 540.5,506.12 542.0,505.95 543.5,505.80 545.0,505.69 546.5,505.60 548.0,505.56 549.5,505.54 551.0,505.54 552.5,505.57 554.0,505.61 555.5,505.66 557.0,505.72 558.5,505.78 560.0,505.83 561.5,505.86 563.0,505.88 564.5,505.87 566.0,505.84 567.5,505.78 569.0,505.70 570.5,505.60 572.0,505.48 573.5,505.35 575.0,505.21 576.5,505.08 578.0,504.95 579.5,504.84 581.0,504.75 582.5,504.68 584.0,504.65 585.5,504.64 587.0,504.67 588.5,504.72 590.0,504.81 591.5,504.96 593.0,505.13 594.5,505.31 596.0,505.50 597.5,505.70 599.0,505.88 600.5,506.05 602.0,506.21 603.5,506.35 605.0,506.46 606.5,506.55 608.0,506.62 609.5,506.66 611.0,506.68 612.5,506.69 614.0,506.69 615.5,506.69 617.0,506.70 618.5,506.72 620.0,506.74 621.5,506.79 623.0,506.85 624.5,506.93 626.0,507.04 627.5,507.17 629.0,507.34 630.5,507.53 632.0,507.75 633.5,508.00 635.0,508.26 636.5,508.54 638.0,508.83 639.5,509.10 641.0,509.35 642.5,509.59 644.0,509.79 645.5,509.96 647.0,510.10 648.5,510.22 650.0,510.33 651.5,510.44 653.0,510.56 654.5,510.67 656.0,510.79 657.5,510.92 659.0,511.04 660.5,511.17 662.0,511.29 663.5,511.41 665.0,511.54 666.5,511.67 668.0,511.83 669.5,512.01 671.0,512.23 672.5,512.50 674.0,512.81 675.5,513.16 677.0,513.56 678.5,513.98 680.0,514.41 681.5,514.84 683.0,515.24 684.5,515.60 686.0,515.91 687.5,516.17 689.0,516.38 690.5,516.55 692.0,516.70 693.5,516.83 695.0,516.96 696.5,517.09 698.0,517.23 699.5,517.37 701.0,517.51 702.5,517.64 704.0,517.76 705.5,517.86 707.0,517.96 708.5,518.05 710.0,518.16 711.5,518.30 713.0,518.49 714.5,518.75 716.0,519.08 717.5,519.48 719.0,519.95 720.5,520.48 722.0,521.04 723.5,521.61 725.0,522.17 726.5,522.68 728.0,523.13 729.5,523.51 731.0,523.81 732.5,524.04 734.0,524.20 735.5,524.33 737.0,524.43 738.5,524.52 740.0,524.62 741.5,524.72 743.0,524.84 744.5,524.96 746.0,525.08 747.5,525.19 749.0,525.29 750.5,525.37 752.0,525.44 753.5,525.53 755.0,525.63 756.5,525.79 758.0,526.02 759.5,526.33 761.0,526.73 762.5,527.23 764.0,527.81 765.5,528.46 767.0,529.13 768.5,529.80 770.0,530.44 771.5,531.02 773.0,531.52 774.5,531.92 776.0,532.22 777.5,532.44 779.0,532.59 780.5,532.69 782.0,532.77 783.5,532.84 785.0,532.92 786.5,533.02 788.0,533.13 789.5,533.24 791.0,533.35 792.5,533.45 794.0,533.53 795.5,533.59 797.0,533.65 798.5,533.71 800.0,533.81 801.5,533.95 803.0,534.17 804.5,534.47 806.0,534.85 807.5,535.33 809.0,535.89 810.5,536.51 812.0,537.19 813.5,537.89 815.0,538.59 816.5,539.25 818.0,539.85 819.5,540.38 821.0,540.81 822.5,541.15 824.0,541.40 825.5,541.58 827.0,541.71 828.5,541.79 830.0,541.85 831.5,541.91 833.0,541.98 834.5,542.06 836.0,542.16 837.5,542.26 839.0,542.36 840.5,542.46 842.0,542.55 843.5,542.62 845.0,542.68 846.5,542.73 848.0,542.79 849.5,542.87 851.0,543.00 852.5,543.20 854.0,543.47 855.5,543.84 857.0,544.31 858.5,544.87 860.0,545.52 861.5,546.22 863.0,546.95 864.5,547.67 866.0,548.37 867.5,549.00 869.0,549.56 870.5,550.01 872.0,550.37 873.5,550.63 875.0,550.81 876.5,550.93 878.0,551.00 879.5,551.04 881.0,551.08 882.5,551.12 884.0,551.18 885.5,551.25 887.0,551.33 888.5,551.42 890.0,551.50 891.5,551.56 893.0,551.61 894.5,551.64 896.0,551.67 897.5,551.70 899.0,551.76 900.5,551.87 902.0,552.05 903.5,552.31 905.0,552.64 906.5,553.07 908.0,553.58 909.5,554.17 911.0,554.82 912.5,555.51 914.0,556.21 915.5,556.91 917.0,557.57 918.5,558.17 920.0,558.70 921.5,559.14 923.0,559.49 924.5,559.75 926.0,559.93 927.5,560.05 929.0,560.12 930.5,560.16 932.0,560.19 933.5,560.21 935.0,560.24 936.5,560.29 938.0,560.35 939.5,560.41 941.0,560.48 942.5,560.54 944.0,560.59 945.5,560.62 947.0,560.64 948.5,560.65 950.0,560.66 951.5,560.68 953.0,560.74 954.5,560.84 956.0,561.01 957.5,561.27 959.0,561.61 960.5,562.05 962.0,562.59 963.5,563.19 965.0,563.86 966.5,564.56 968.0,565.26 969.5,565.95 971.0,566.58 972.5,567.14 974.0,567.61 975.5,567.99 977.0,568.27 978.5,568.47 980.0,568.58 981.5,568.64 983.0,568.65 984.5,568.64 986.0,568.63 987.5,568.62 989.0,568.62 990.5,568.64 992.0,568.67 993.5,568.70 995.0,568.73 996.5,568.74 998.0,568.75 999.5,568.73 1001.0,568.71 1002.5,568.69 1004.0,568.67 1005.5,568.69 1007.0,568.75 1008.5,568.88 1010.0,569.09 1011.5,569.39 1013.0,569.78 1014.5,570.26 1016.0,570.82 1017.5,571.45 1019.0,572.12 1020.5,572.81 1022.0,573.50 1023.5,574.15 1025.0,574.75 1026.5,575.28 1028.0,575.72 1029.5,576.07 1031.0,576.33 1032.5,576.50 1034.0,576.60 1035.5,576.64 1037.0,576.65 1038.5,576.63 1040.0,576.61 1041.5,576.58 1043.0,576.57 1044.5,576.57 1046.0,576.58 1047.5,576.59 1049.0,576.59 1050.5,576.59 1052.0,576.57 1053.5,576.53 1055.0,576.47 1056.5,576.42 1058.0,576.37 1059.5,576.35 1061.0,576.40 1062.5,576.52 1064.0,576.71 1065.5,576.97 1067.0,577.31 1068.5,577.73 1070.0,578.22 1071.5,578.77 1073.0,579.37 1074.5,579.99 1076.0,580.63 1077.5,581.25 1079.0,581.85 1080.5,582.42 1082.0,582.93 1083.5,583.38 1085.0,583.77 1086.5,584.10 1088.0,584.37 1089.5,584.59 1091.0,584.75 1092.5,584.87 1094.0,584.93 1095.5,584.94 1097.0,584.88 1098.5,584.76 1100.0,584.59 1101.5,584.37 1103.0,584.12 1104.5,583.84 1106.0,583.54 1107.5,583.24 1109.0,582.93 1110.5,582.65 1112.0,582.38 1113.5,582.15 1115.0,581.96 1116.5,581.81 1118.0,581.73 1119.5,581.71 1121.0,581.75 1122.5,581.86 1124.0,582.03 1125.5,582.25 1127.0,582.53 1128.5,582.86 1130.0,583.23 1131.5,583.65 1133.0,584.10 1134.5,584.58 1136.0,585.08 1137.5,585.60 1139.0,586.12 1140.5,586.63 1142.0,587.14 1143.5,587.62 1145.0,588.07 1146.5,588.49 1148.0,588.87 1149.5,589.20 1151.0,589.46 1152.5,589.66 1154.0,589.81 1155.5,589.89 1157.0,589.91 1158.5,589.87 1160.0,589.77 1161.5,589.63 1163.0,589.43 1164.5,589.20 1166.0,588.94 1167.5,588.64 1169.0,588.34 1170.5,588.02 1172.0,587.70 1173.5,587.39 1175.0,587.09 1176.5,586.82 1178.0,586.58 1179.5,586.39 1181.0,586.23 1182.5,586.13 1184.0,586.08 1185.5,586.09 1187.0,586.16 1188.5,586.29 1190.0,586.47 1191.5,586.70 1193.0,586.98 1194.5,587.31 1196.0,587.69 1197.5,588.10 1199.0,588.54 1200.5,588.99 1202.0,589.45 1203.5,589.91 1205.0,590.38 1206.5,590.84 1208.0,591.29 1209.5,591.72 1211.0,592.13 1212.5,592.50 1214.0,592.83 1215.5,593.11 1217.0,593.35 1218.5,593.54 1220.0,593.67 1221.5,593.74 1223.0,593.76 1224.5,593.72 1226.0,593.62 1227.5,593.47 1229.0,593.28 1230.5,593.04 1232.0,592.76 1233.5,592.44 1235.0,592.10 1236.5,591.74 1238.0,591.37 1239.5,590.99 1241.0,590.61 1242.5,590.25 1244.0,589.90 1245.5,589.58 1247.0,589.29 1248.5,589.03 1250.0,588.82 1251.5,588.65 1253.0,588.53 1254.5,588.47 1256.0,588.46 1257.5,588.51 1259.0,588.60 1260.5,588.75 1262.0,588.95 1263.5,589.19 1265.0,589.47 1266.5,589.79 1268.0,590.14 1269.5,590.52 1271.0,590.91 1272.5,591.31 1274.0,591.72 1275.5,592.12 1277.0,592.52 1278.5,592.89 1280.0,593.24 1281.5,593.56 1283.0,593.84 1284.5,594.08 1286.0,594.28 1287.5,594.42 1289.0,594.51 1290.5,594.54 1292.0,594.52 1293.5,594.45 1295.0,594.32 1296.5,594.14 1298.0,593.91 1299.5,593.63 1301.0,593.32 1302.5,592.97 1304.0,592.60 1305.5,592.20 1307.0,591.79 1308.5,591.37 1310.0,590.94 1311.5,590.53 1313.0,590.12 1314.5,589.74 1316.0,589.38 1317.5,589.06 1319.0,588.77 1320.5,588.53 1322.0,588.33 1323.5,588.19 1325.0,588.09 1326.5,588.05 1328.0,588.05 1329.5,588.10 1331.0,588.19 1332.5,588.32 1334.0,588.49 1335.5,588.70 1337.0,588.93 1338.5,589.19 1340.0,589.48 1341.5,589.78 1343.0,590.10 1344.5,590.42 1346.0,590.74 1347.5,591.06 1349.0,591.37 1350.5,591.66 1352.0,591.93 1353.5,592.17 1355.0,592.38 1356.5,592.56 1358.0,592.70 1359.5,592.79 1361.0,592.85 1362.5,592.85 1364.0,592.81 1365.5,592.73 1367.0,592.59 1368.5,592.41 1370.0,592.19 1371.5,591.93 1373.0,591.62 1374.5,591.29 1376.0,590.92 1377.5,590.52 1379.0,590.11 1380.5,589.68 1382.0,589.23 1383.5,588.79 1385.0,588.34 1386.5,587.90 1388.0,587.47 1389.5,587.06 1391.0,586.68 1392.5,586.32 1394.0,585.99 1395.5,585.70 1397.0,585.45 1398.5,585.23 1400.0,585.07 1401.5,584.97 1403.0,584.92 1404.5,584.92 1406.0,584.98 1407.5,585.08 1409.0,585.23 1410.5,585.42 1412.0,585.64 1413.5,585.90 1415.0,586.18 1416.5,586.48 1418.0,586.79 1419.5,587.11 1421.0,587.42 1422.5,587.72 1424.0,588.00 1425.5,588.26 1427.0,588.49 1428.5,588.69 1430.0,588.85 1431.5,588.96 1433.0,589.04 1434.5,589.06 1436.0,589.04 1437.5,588.97 1439.0,588.85 1440.5,588.68 1442.0,588.44 1443.5,588.17 1445.0,587.84 1446.5,587.48 1448.0,587.08 1449.5,586.65 1451.0,586.19 1452.5,585.72 1454.0,585.24 1455.5,584.75 1457.0,584.28 1458.5,583.81 1460.0,583.37 1461.5,582.95 1463.0,582.57 1464.5,582.23 1466.0,581.94 1467.5,581.69 1469.0,581.49 1470.5,581.34 1472.0,581.24 1473.5,581.18 1475.0,581.16 1476.5,581.23 1478.0,581.37 1479.5,581.57 1481.0,581.80 1482.5,582.05 1484.0,582.33 1485.5,582.60 1487.0,582.86 1488.5,583.09 1490.0,583.29 1491.5,583.45 1493.0,583.57 1494.5,583.65 1496.0,583.65 1497.5,583.62 1499.0,583.57 1500.5,583.51 1502.0,583.45 1503.5,583.37 1505.0,583.29 1506.5,583.20 1508.0,583.10 1509.5,583.00 1511.0,582.90 1512.5,582.79 1514.0,582.66 1515.5,582.46 1517.0,582.20 1518.5,581.88 1520.0,581.52 1521.5,581.13 1523.0,580.71 1524.5,580.27 1526.0,579.83 1527.5,579.40 1529.0,578.98 1530.5,578.58 1532.0,578.22 1533.5,577.91 1535.0,577.64 1536.5,577.44 1538.0,577.28 1539.5,577.11 1541.0,576.95 1542.5,576.78 1544.0,576.62 1545.5,576.47 1547.0,576.33 1548.5,576.20 1550.0,576.08 1551.5,575.97 1553.0,575.89 1554.5,575.81 1556.0,575.76 1557.5,575.73 1559.0,575.73 1560.5,575.74 1562.0,575.79 1563.5,575.88 1565.0,575.98 1566.5,576.11 1568.0,576.26 1569.5,576.41 1571.0,576.57 1572.5,576.74 1574.0,576.89 1575.5,577.05 1577.0,577.18 1578.5,577.30 1580.0,577.40 1581.5,577.47 1583.0,577.50 1584.5,577.50 1586.0,577.47 1587.5,577.41 1589.0,577.33 1590.5,577.22 1592.0,577.08 1593.5,576.93 1595.0,576.75 1596.5,576.56 1598.0,576.34 1599.5,576.12 1601.0,575.87 1602.5,575.61 1604.0,575.33 1605.5,575.05 1607.0,574.75 1608.5,574.29 1610.0,573.71 1611.5,573.05 1613.0,572.38 1614.5,571.74 1616.0,571.19 1617.5,570.79 1619.0,570.55 1620.5,570.36 1622.0,570.20 1623.5,570.07 1625.0,569.97 1626.5,569.87 1628.0,569.78 1629.5,569.68 1631.0,569.57 1632.5,569.44 1634.0,569.28 1635.5,569.09 1637.0,568.85 1638.5,568.32 1640.0,567.80 1641.5,567.81 1643.0,567.83 1644.5,567.87 1646.0,567.92 1647.5,567.97 1649.0,568.04 1650.5,568.10 1652.0,568.17 1653.5,568.24 1655.0,568.30 1656.5,568.36 1658.0,568.42 1659.5,568.46 1661.0,568.49 1662.5,568.50 1664.0,568.50 1665.5,568.48 1667.0,568.44 1668.5,568.40 1670.0,568.34 1671.5,568.26 1673.0,568.18 1674.5,568.08 1676.0,567.97 1677.5,567.86 1679.0,567.73 1680.5,567.60 1682.0,567.46 1683.5,567.31 1685.0,567.16 1686.5,567.00 1688.0,566.78 1689.5,566.45 1691.0,566.02 1692.5,565.52 1694.0,564.96 1695.5,564.36 1697.0,563.72 1698.5,563.08 1700.0,562.44 1701.5,561.83 1703.0,561.25 1704.5,560.74 1706.0,560.29 1707.5,559.93 1709.0,559.68 1710.5,559.54 1712.0,559.42 1713.5,559.31 1715.0,559.20 1716.5,559.10 1718.0,559.00 1719.5,558.91 1721.0,558.83 1722.5,558.76 1724.0,558.69 1725.5,558.64 1727.0,558.59 1728.5,558.55 1730.0,558.52 1731.5,558.51 1733.0,558.50 1734.5,558.50 1736.0,558.52 1737.5,558.54 1739.0,558.57 1740.5,558.60 1742.0,558.63 1743.5,558.67 1745.0,558.71 1746.5,558.75 1748.0,558.78 1749.5,558.82 1751.0,558.85 1752.5,558.87 1754.0,558.89 1755.5,558.90 1757.0,558.90 1758.5,558.87 1760.0,558.83 1761.5,558.76 1763.0,558.68 1764.5,558.57 1766.0,558.45 1767.5,558.32 1769.0,558.17 1770.5,558.01 1772.0,557.84 1773.5,557.66 1775.0,557.48 1776.5,557.29 1778.0,557.10 1779.5,556.90 1781.0,556.68 1782.5,556.40 1784.0,556.08 1785.5,555.74 1787.0,555.37 1788.5,555.00 1790.0,554.62 1791.5,554.20 1793.0,553.73 1794.5,553.23 1796.0,552.72 1797.5,552.24 1799.0,551.79 1800.5,551.42 1802.0,551.13 1803.5,550.87 1805.0,550.61 1806.5,550.36 1808.0,550.13 1809.5,549.90 1811.0,549.70 1812.5,549.52 1814.0,549.36 1815.5,549.24 1817.0,549.16 1818.5,549.11 1820.0,549.10 1821.5,549.10 1823.0,549.10 1824.5,549.10 1826.0,549.10 1827.5,549.10 1829.0,549.10 1830.5,549.10 1832.0,549.10 1833.5,549.10 1835.0,549.10 1836.5,549.10 1838.0,549.09 1839.5,549.06 1841.0,549.00 1842.5,548.92 1844.0,548.82 1845.5,548.73 1847.0,548.64" stroke="#c61f1c" stroke-width="12"/><polyline points="284.0,597.74 285.5,595.66 287.0,593.90 288.5,592.52 290.0,591.59 291.5,591.09 293.0,590.88 294.5,590.75 296.0,590.47 297.5,589.86 299.0,588.82 300.5,587.42 302.0,585.81 303.5,584.22 305.0,582.82 306.5,581.72 308.0,580.90 309.5,580.29 311.0,579.73 312.5,579.08 314.0,578.26 315.5,577.28 317.0,576.27 318.5,575.36 320.0,574.66 321.5,574.19 323.0,573.86 324.5,573.48 326.0,572.88 327.5,571.90 329.0,570.50 330.5,568.76 332.0,566.88 333.5,565.10 335.0,563.65 336.5,562.64 338.0,562.07 339.5,561.82 341.0,561.70 342.5,561.53 344.0,561.21 345.5,560.71 347.0,560.13 348.5,559.58 350.0,559.16 351.5,558.89 353.0,558.71 354.5,558.45 356.0,557.94 357.5,557.03 359.0,555.68 360.5,553.99 362.0,552.16 363.5,550.42 365.0,548.99 366.5,548.01 368.0,547.47 369.5,547.24 371.0,547.11 372.5,547.00 374.0,546.80 375.5,546.49 377.0,546.09 378.5,545.67 380.0,545.31 381.5,545.06 383.0,544.93 384.5,544.87 386.0,544.78 387.5,544.52 389.0,544.00 390.5,543.14 392.0,541.96 393.5,540.54 395.0,539.01 396.5,537.54 398.0,536.30 399.5,535.37 401.0,534.83 402.5,534.61 404.0,534.60 405.5,534.68 407.0,534.72 408.5,534.67 410.0,534.51 411.5,534.28 413.0,534.07 414.5,533.93 416.0,533.90 417.5,533.94 419.0,533.97 420.5,533.90 422.0,533.62 423.5,533.09 425.0,532.29 426.5,531.31 428.0,530.24 429.5,529.21 431.0,528.35 432.5,527.71 434.0,527.31 435.5,527.12 437.0,527.06 438.5,527.05 440.0,527.02 441.5,526.90 443.0,526.72 444.5,526.48 446.0,526.23 447.5,525.98 449.0,525.74 450.5,525.52 452.0,525.34 453.5,525.17 455.0,524.98 456.5,524.74 458.0,524.45 459.5,524.08 461.0,523.65 462.5,523.18 464.0,522.71 465.5,522.26 467.0,521.87 468.5,521.56 470.0,521.33 471.5,521.20 473.0,521.11 474.5,521.05 476.0,520.98 477.5,520.90 479.0,520.80 480.5,520.69 482.0,520.59 483.5,520.52 485.0,520.46 486.5,520.42 488.0,520.39 489.5,520.35 491.0,520.28 492.5,520.16 494.0,520.00 495.5,519.79 497.0,519.54 498.5,519.28 500.0,519.02 501.5,518.74 503.0,518.50 504.5,518.30 506.0,518.15 507.5,518.03 509.0,517.94 510.5,517.89 512.0,517.85 513.5,517.84 515.0,517.86 516.5,517.89 518.0,517.93 519.5,517.98 521.0,518.03 522.5,518.06 524.0,518.08 525.5,518.07 527.0,518.03 528.5,517.97 530.0,517.89 531.5,517.78 533.0,517.65 534.5,517.51 536.0,517.36 537.5,517.21 539.0,517.07 540.5,516.95 542.0,516.85 543.5,516.78 545.0,516.74 546.5,516.73 548.0,516.76 549.5,516.81 551.0,516.88 552.5,516.96 554.0,517.06 555.5,517.17 557.0,517.29 558.5,517.40 560.0,517.50 561.5,517.60 563.0,517.67 564.5,517.72 566.0,517.74 567.5,517.74 569.0,517.71 570.5,517.67 572.0,517.61 573.5,517.53 575.0,517.45 576.5,517.37 578.0,517.30 579.5,517.25 581.0,517.21 582.5,517.20 584.0,517.22 585.5,517.27 587.0,517.36 588.5,517.47 590.0,517.61 591.5,517.79 593.0,518.00 594.5,518.21 596.0,518.43 597.5,518.66 599.0,518.88 600.5,519.08 602.0,519.27 603.5,519.44 605.0,519.59 606.5,519.71 608.0,519.81 609.5,519.88 611.0,519.93 612.5,519.98 614.0,520.01 615.5,520.05 617.0,520.08 618.5,520.13 620.0,520.19 621.5,520.27 623.0,520.36 624.5,520.48 626.0,520.62 627.5,520.78 629.0,520.98 630.5,521.21 632.0,521.46 633.5,521.74 635.0,522.04 636.5,522.35 638.0,522.67 639.5,522.97 641.0,523.26 642.5,523.52 644.0,523.76 645.5,523.96 647.0,524.14 648.5,524.29 650.0,524.43 651.5,524.54 653.0,524.65 654.5,524.76 656.0,524.87 657.5,524.99 659.0,525.11 660.5,525.23 662.0,525.34 663.5,525.46 665.0,525.58 666.5,525.71 668.0,525.86 669.5,526.03 671.0,526.25 672.5,526.51 674.0,526.81 675.5,527.16 677.0,527.55 678.5,527.97 680.0,528.39 681.5,528.81 683.0,529.21 684.5,529.56 686.0,529.87 687.5,530.12 689.0,530.33 690.5,530.49 692.0,530.63 693.5,530.75 695.0,530.88 696.5,531.00 698.0,531.14 699.5,531.28 701.0,531.41 702.5,531.54 704.0,531.66 705.5,531.76 707.0,531.85 708.5,531.94 710.0,532.05 711.5,532.19 713.0,532.38 714.5,532.63 716.0,532.96 717.5,533.36 719.0,533.83 720.5,534.36 722.0,534.92 723.5,535.49 725.0,536.04 726.5,536.56 728.0,537.01 729.5,537.38 731.0,537.68 732.5,537.90 734.0,538.07 735.5,538.19 737.0,538.29 738.5,538.38 740.0,538.48 741.5,538.58 743.0,538.70 744.5,538.82 746.0,538.94 747.5,539.04 749.0,539.14 750.5,539.22 752.0,539.29 753.5,539.37 755.0,539.48 756.5,539.63 758.0,539.86 759.5,540.17 761.0,540.57 762.5,541.07 764.0,541.65 765.5,542.29 767.0,542.96 768.5,543.63 770.0,544.27 771.5,544.85 773.0,545.34 774.5,545.74 776.0,546.04 777.5,546.26 779.0,546.41 780.5,546.51 782.0,546.59 783.5,546.66 785.0,546.74 786.5,546.83 788.0,546.94 789.5,547.05 791.0,547.16 792.5,547.25 794.0,547.33 795.5,547.39 797.0,547.45 798.5,547.51 800.0,547.61 801.5,547.76 803.0,547.98 804.5,548.28 806.0,548.66 807.5,549.14 809.0,549.70 810.5,550.33 812.0,551.01 813.5,551.72 815.0,552.42 816.5,553.08 818.0,553.69 819.5,554.22 821.0,554.65 822.5,555.00 824.0,555.25 825.5,555.43 827.0,555.56 828.5,555.65 830.0,555.71 831.5,555.78 833.0,555.85 834.5,555.93 836.0,556.03 837.5,556.13 839.0,556.24 840.5,556.34 842.0,556.43 843.5,556.51 845.0,556.57 846.5,556.62 848.0,556.69 849.5,556.77 851.0,556.90 852.5,557.10 854.0,557.38 855.5,557.75 857.0,558.22 858.5,558.79 860.0,559.44 861.5,560.14 863.0,560.87 864.5,561.60 866.0,562.30 867.5,562.94 869.0,563.49 870.5,563.96 872.0,564.32 873.5,564.58 875.0,564.76 876.5,564.88 878.0,564.95 879.5,565.00 881.0,565.04 882.5,565.09 884.0,565.15 885.5,565.22 887.0,565.31 888.5,565.40 890.0,565.48 891.5,565.55 893.0,565.60 894.5,565.63 896.0,565.66 897.5,565.70 899.0,565.76 900.5,565.87 902.0,566.05 903.5,566.30 905.0,566.63 906.5,567.05 908.0,567.56 909.5,568.15 911.0,568.79 912.5,569.48 914.0,570.18 915.5,570.88 917.0,571.53 918.5,572.13 920.0,572.66 921.5,573.09 923.0,573.44 924.5,573.70 926.0,573.88 927.5,574.00 929.0,574.06 930.5,574.10 932.0,574.12 933.5,574.14 935.0,574.17 936.5,574.22 938.0,574.27 939.5,574.33 941.0,574.40 942.5,574.46 944.0,574.50 945.5,574.53 947.0,574.55 948.5,574.55 950.0,574.56 951.5,574.58 953.0,574.63 954.5,574.73 956.0,574.90 957.5,575.15 959.0,575.50 960.5,575.93 962.0,576.46 963.5,577.07 965.0,577.73 966.5,578.43 968.0,579.13 969.5,579.81 971.0,580.44 972.5,580.99 974.0,581.47 975.5,581.84 977.0,582.12 978.5,582.31 980.0,582.42 981.5,582.48 983.0,582.49 984.5,582.48 986.0,582.46 987.5,582.44 989.0,582.44 990.5,582.46 992.0,582.48 993.5,582.51 995.0,582.54 996.5,582.55 998.0,582.55 999.5,582.54 1001.0,582.51 1002.5,582.48 1004.0,582.47 1005.5,582.48 1007.0,582.54 1008.5,582.67 1010.0,582.88 1011.5,583.17 1013.0,583.56 1014.5,584.03 1016.0,584.59 1017.5,585.22 1019.0,585.89 1020.5,586.58 1022.0,587.26 1023.5,587.91 1025.0,588.51 1026.5,589.04 1028.0,589.47 1029.5,589.82 1031.0,590.07 1032.5,590.24 1034.0,590.34 1035.5,590.38 1037.0,590.39 1038.5,590.37 1040.0,590.34 1041.5,590.31 1043.0,590.30 1044.5,590.30 1046.0,590.30 1047.5,590.31 1049.0,590.31 1050.5,590.31 1052.0,590.28 1053.5,590.24 1055.0,590.18 1056.5,590.12 1058.0,590.07 1059.5,590.05 1061.0,590.07 1062.5,590.15 1064.0,590.30 1065.5,590.52 1067.0,590.81 1068.5,591.19 1070.0,591.64 1071.5,592.14 1073.0,592.70 1074.5,593.28 1076.0,593.87 1077.5,594.46 1079.0,595.02 1080.5,595.53 1082.0,596.00 1083.5,596.41 1085.0,596.76 1086.5,597.05 1088.0,597.28 1089.5,597.45 1091.0,597.58 1092.5,597.65 1094.0,597.67 1095.5,597.64 1097.0,597.53 1098.5,597.37 1100.0,597.16 1101.5,596.90 1103.0,596.60 1104.5,596.28 1106.0,595.94 1107.5,595.59 1109.0,595.25 1110.5,594.91 1112.0,594.61 1113.5,594.33 1115.0,594.10 1116.5,593.91 1118.0,593.79 1119.5,593.72 1121.0,593.72 1122.5,593.77 1124.0,593.89 1125.5,594.05 1127.0,594.28 1128.5,594.55 1130.0,594.87 1131.5,595.23 1133.0,595.63 1134.5,596.06 1136.0,596.50 1137.5,596.96 1139.0,597.43 1140.5,597.89 1142.0,598.34 1143.5,598.77 1145.0,599.17 1146.5,599.53 1148.0,599.85 1149.5,600.13 1151.0,600.34 1152.5,600.49 1154.0,600.57 1155.5,600.60 1157.0,600.56 1158.5,600.47 1160.0,600.32 1161.5,600.12 1163.0,599.88 1164.5,599.59 1166.0,599.27 1167.5,598.92 1169.0,598.56 1170.5,598.19 1172.0,597.81 1173.5,597.45 1175.0,597.10 1176.5,596.77 1178.0,596.48 1179.5,596.23 1181.0,596.02 1182.5,595.87 1184.0,595.76 1185.5,595.72 1187.0,595.73 1188.5,595.80 1190.0,595.93 1191.5,596.11 1193.0,596.34 1194.5,596.61 1196.0,596.93 1197.5,597.29 1199.0,597.67 1200.5,598.08 1202.0,598.52 1203.5,598.97 1205.0,599.41 1206.5,599.86 1208.0,600.29 1209.5,600.70 1211.0,601.08 1212.5,601.43 1214.0,601.74 1215.5,602.01 1217.0,602.23 1218.5,602.39 1220.0,602.51 1221.5,602.56 1223.0,602.56 1224.5,602.50 1226.0,602.38 1227.5,602.22 1229.0,602.00 1230.5,601.74 1232.0,601.44 1233.5,601.11 1235.0,600.75 1236.5,600.37 1238.0,599.97 1239.5,599.58 1241.0,599.18 1242.5,598.80 1244.0,598.43 1245.5,598.09 1247.0,597.77 1248.5,597.50 1250.0,597.27 1251.5,597.08 1253.0,596.95 1254.5,596.86 1256.0,596.83 1257.5,596.86 1259.0,596.94 1260.5,597.06 1262.0,597.24 1263.5,597.46 1265.0,597.73 1266.5,598.03 1268.0,598.36 1269.5,598.71 1271.0,599.09 1272.5,599.47 1274.0,599.86 1275.5,600.24 1277.0,600.62 1278.5,600.97 1280.0,601.30 1281.5,601.60 1283.0,601.86 1284.5,602.08 1286.0,602.26 1287.5,602.38 1289.0,602.45 1290.5,602.47 1292.0,602.43 1293.5,602.33 1295.0,602.18 1296.5,601.98 1298.0,601.73 1299.5,601.44 1301.0,601.11 1302.5,600.76 1304.0,600.38 1305.5,599.97 1307.0,599.55 1308.5,599.12 1310.0,598.69 1311.5,598.27 1313.0,597.86 1314.5,597.47 1316.0,597.10 1317.5,596.77 1319.0,596.48 1320.5,596.23 1322.0,596.02 1323.5,595.87 1325.0,595.77 1326.5,595.72 1328.0,595.71 1329.5,595.75 1331.0,595.83 1332.5,595.96 1334.0,596.12 1335.5,596.32 1337.0,596.55 1338.5,596.80 1340.0,597.08 1341.5,597.38 1343.0,597.68 1344.5,598.00 1346.0,598.31 1347.5,598.62 1349.0,598.92 1350.5,599.20 1352.0,599.47 1353.5,599.70 1355.0,599.91 1356.5,600.08 1358.0,600.21 1359.5,600.30 1361.0,600.34 1362.5,600.34 1364.0,600.29 1365.5,600.20 1367.0,600.06 1368.5,599.87 1370.0,599.64 1371.5,599.37 1373.0,599.06 1374.5,598.71 1376.0,598.34 1377.5,597.94 1379.0,597.51 1380.5,597.07 1382.0,596.62 1383.5,596.17 1385.0,595.72 1386.5,595.27 1388.0,594.83 1389.5,594.42 1391.0,594.02 1392.5,593.66 1394.0,593.32 1395.5,593.02 1397.0,592.76 1398.5,592.54 1400.0,592.37 1401.5,592.21 1403.0,592.09 1404.5,592.03 1406.0,592.02 1407.5,592.06 1409.0,592.14 1410.5,592.27 1412.0,592.43 1413.5,592.63 1415.0,592.84 1416.5,593.08 1418.0,593.33 1419.5,593.58 1421.0,593.83 1422.5,594.06 1424.0,594.28 1425.5,594.48 1427.0,594.64 1428.5,594.78 1430.0,594.87 1431.5,594.93 1433.0,594.94 1434.5,594.90 1436.0,594.81 1437.5,594.68 1439.0,594.49 1440.5,594.27 1442.0,594.00 1443.5,593.70 1445.0,593.34 1446.5,592.95 1448.0,592.52 1449.5,592.06 1451.0,591.57 1452.5,591.07 1454.0,590.56 1455.5,590.04 1457.0,589.54 1458.5,589.04 1460.0,588.57 1461.5,588.12 1463.0,587.71 1464.5,587.34 1466.0,587.02 1467.5,586.74 1469.0,586.51 1470.5,586.33 1472.0,586.20 1473.5,586.11 1475.0,586.06 1476.5,586.10 1478.0,586.21 1479.5,586.38 1481.0,586.57 1482.5,586.78 1484.0,587.01 1485.5,587.23 1487.0,587.45 1488.5,587.64 1490.0,587.79 1491.5,587.90 1493.0,587.98 1494.5,588.02 1496.0,587.97 1497.5,587.89 1499.0,587.80 1500.5,587.70 1502.0,587.59 1503.5,587.47 1505.0,587.34 1506.5,587.21 1508.0,587.06 1509.5,586.92 1511.0,586.77 1512.5,586.61 1514.0,586.44 1515.5,586.19 1517.0,585.89 1518.5,585.53 1520.0,585.12 1521.5,584.68 1523.0,584.22 1524.5,583.74 1526.0,583.25 1527.5,582.77 1529.0,582.31 1530.5,581.87 1532.0,581.46 1533.5,581.10 1535.0,580.79 1536.5,580.55 1538.0,580.34 1539.5,580.13 1541.0,579.92 1542.5,579.72 1544.0,579.53 1545.5,579.34 1547.0,579.16 1548.5,579.00 1550.0,578.84 1551.5,578.71 1553.0,578.58 1554.5,578.48 1556.0,578.39 1557.5,578.32 1559.0,578.28 1560.5,578.26 1562.0,578.28 1563.5,578.33 1565.0,578.40 1566.5,578.49 1568.0,578.60 1569.5,578.72 1571.0,578.85 1572.5,578.98 1574.0,579.10 1575.5,579.22 1577.0,579.32 1578.5,579.40 1580.0,579.46 1581.5,579.50 1583.0,579.50 1584.5,579.46 1586.0,579.40 1587.5,579.31 1589.0,579.19 1590.5,579.04 1592.0,578.87 1593.5,578.68 1595.0,578.47 1596.5,578.24 1598.0,577.99 1599.5,577.73 1601.0,577.47 1602.5,577.21 1604.0,576.93 1605.5,576.65 1607.0,576.35 1608.5,575.89 1610.0,575.31 1611.5,574.65 1613.0,573.98 1614.5,573.34 1616.0,572.79 1617.5,572.39 1619.0,572.15 1620.5,571.96 1622.0,571.80 1623.5,571.67 1625.0,571.57 1626.5,571.47 1628.0,571.38 1629.5,571.28 1631.0,571.17 1632.5,571.04 1634.0,570.88 1635.5,570.69 1637.0,570.45 1638.5,569.92 1640.0,569.40 1641.5,569.41 1643.0,569.43 1644.5,569.47 1646.0,569.52 1647.5,569.57 1649.0,569.64 1650.5,569.70 1652.0,569.77 1653.5,569.84 1655.0,569.90 1656.5,569.96 1658.0,570.02 1659.5,570.06 1661.0,570.09 1662.5,570.10 1664.0,570.10 1665.5,570.08 1667.0,570.04 1668.5,570.00 1670.0,569.94 1671.5,569.86 1673.0,569.78 1674.5,569.68 1676.0,569.57 1677.5,569.46 1679.0,569.33 1680.5,569.20 1682.0,569.06 1683.5,568.91 1685.0,568.76 1686.5,568.60 1688.0,568.38 1689.5,568.05 1691.0,567.62 1692.5,567.12 1694.0,566.56 1695.5,565.96 1697.0,565.32 1698.5,564.68 1700.0,564.04 1701.5,563.43 1703.0,562.85 1704.5,562.34 1706.0,561.89 1707.5,561.53 1709.0,561.28 1710.5,561.14 1712.0,561.02 1713.5,560.91 1715.0,560.80 1716.5,560.70 1718.0,560.60 1719.5,560.51 1721.0,560.43 1722.5,560.36 1724.0,560.29 1725.5,560.24 1727.0,560.19 1728.5,560.15 1730.0,560.12 1731.5,560.11 1733.0,560.10 1734.5,560.10 1736.0,560.12 1737.5,560.14 1739.0,560.17 1740.5,560.20 1742.0,560.23 1743.5,560.27 1745.0,560.31 1746.5,560.35 1748.0,560.38 1749.5,560.42 1751.0,560.45 1752.5,560.47 1754.0,560.49 1755.5,560.50 1757.0,560.50 1758.5,560.47 1760.0,560.43 1761.5,560.36 1763.0,560.28 1764.5,560.17 1766.0,560.05 1767.5,559.92 1769.0,559.77 1770.5,559.61 1772.0,559.44 1773.5,559.26 1775.0,559.08 1776.5,558.89 1778.0,558.70 1779.5,558.50 1781.0,558.28 1782.5,558.00 1784.0,557.68 1785.5,557.34 1787.0,556.97 1788.5,556.60 1790.0,556.22 1791.5,555.80 1793.0,555.33 1794.5,554.83 1796.0,554.32 1797.5,553.84 1799.0,553.39 1800.5,553.02 1802.0,552.73 1803.5,552.47 1805.0,552.21 1806.5,551.96 1808.0,551.73 1809.5,551.50 1811.0,551.30 1812.5,551.12 1814.0,550.96 1815.5,550.84 1817.0,550.76 1818.5,550.71 1820.0,550.70 1821.5,550.70 1823.0,550.70 1824.5,550.70 1826.0,550.70 1827.5,550.70 1829.0,550.70 1830.5,550.70 1832.0,550.70 1833.5,550.70 1835.0,550.70 1836.5,550.70 1838.0,550.69 1839.5,550.66 1841.0,550.60 1842.5,550.52 1844.0,550.42 1845.5,550.33 1847.0,550.24" stroke="#3a64dc" stroke-width="12"/><polyline points="284.0,597.74 285.5,595.66 287.0,593.90 288.5,592.52 290.0,591.59 291.5,591.08 293.0,590.86 294.5,590.73 296.0,590.45 297.5,589.82 299.0,588.78 300.5,587.37 302.0,585.76 303.5,584.16 305.0,582.75 306.5,581.64 308.0,580.82 309.5,580.20 311.0,579.63 312.5,578.98 314.0,578.15 315.5,577.17 317.0,576.15 318.5,575.23 320.0,574.53 321.5,574.05 323.0,573.71 324.5,573.33 326.0,572.72 327.5,571.73 329.0,570.32 330.5,568.58 332.0,566.69 333.5,564.91 335.0,563.44 336.5,562.43 338.0,561.85 339.5,561.59 341.0,561.47 342.5,561.29 344.0,560.96 345.5,560.46 347.0,559.87 348.5,559.31 350.0,558.89 351.5,558.61 353.0,558.42 354.5,558.16 356.0,557.64 357.5,556.72 359.0,555.37 360.5,553.67 362.0,551.83 363.5,550.08 365.0,548.65 366.5,547.66 368.0,547.11 369.5,546.88 371.0,546.75 372.5,546.62 374.0,546.42 375.5,546.10 377.0,545.69 378.5,545.27 380.0,544.90 381.5,544.64 383.0,544.51 384.5,544.44 386.0,544.34 387.5,544.08 389.0,543.55 390.5,542.69 392.0,541.50 393.5,540.07 395.0,538.53 396.5,537.06 398.0,535.81 399.5,534.87 401.0,534.29 402.5,534.02 404.0,533.95 405.5,533.97 407.0,533.96 408.5,533.85 410.0,533.64 411.5,533.35 413.0,533.08 414.5,532.89 416.0,532.80 417.5,532.78 419.0,532.76 420.5,532.63 422.0,532.30 423.5,531.71 425.0,530.86 426.5,529.81 428.0,528.69 429.5,527.61 431.0,526.69 432.5,525.99 434.0,525.54 435.5,525.29 437.0,525.18 438.5,525.10 440.0,525.02 441.5,524.87 443.0,524.67 444.5,524.41 446.0,524.13 447.5,523.85 449.0,523.59 450.5,523.35 452.0,523.14 453.5,522.94 455.0,522.73 456.5,522.47 458.0,522.15 459.5,521.76 461.0,521.30 462.5,520.81 464.0,520.31 465.5,519.84 467.0,519.42 468.5,519.08 470.0,518.83 471.5,518.63 473.0,518.48 474.5,518.35 476.0,518.22 477.5,518.07 479.0,517.91 480.5,517.74 482.0,517.57 483.5,517.43 485.0,517.31 486.5,517.21 488.0,517.11 489.5,517.01 491.0,516.87 492.5,516.69 494.0,516.46 495.5,516.18 497.0,515.87 498.5,515.54 500.0,515.22 501.5,514.91 503.0,514.64 504.5,514.41 506.0,514.23 507.5,514.08 509.0,513.96 510.5,513.88 512.0,513.81 513.5,513.77 515.0,513.76 516.5,513.76 518.0,513.77 519.5,513.79 521.0,513.81 522.5,513.81 524.0,513.80 525.5,513.76 527.0,513.69 528.5,513.60 530.0,513.49 531.5,513.35 533.0,513.19 534.5,513.02 536.0,512.84 537.5,512.66 539.0,512.49 540.5,512.34 542.0,512.21 543.5,512.11 545.0,512.04 546.5,512.00 548.0,512.00 549.5,512.02 551.0,512.08 552.5,512.16 554.0,512.26 555.5,512.37 557.0,512.49 558.5,512.60 560.0,512.70 561.5,512.80 563.0,512.87 564.5,512.92 566.0,512.94 567.5,512.94 569.0,512.91 570.5,512.87 572.0,512.81 573.5,512.73 575.0,512.65 576.5,512.57 578.0,512.50 579.5,512.45 581.0,512.41 582.5,512.40 584.0,512.42 585.5,512.47 587.0,512.56 588.5,512.67 590.0,512.81 591.5,512.97 593.0,513.15 594.5,513.34 596.0,513.53 597.5,513.73 599.0,513.93 600.5,514.11 602.0,514.27 603.5,514.41 605.0,514.54 606.5,514.63 608.0,514.71 609.5,514.75 611.0,514.78 612.5,514.80 614.0,514.81 615.5,514.82 617.0,514.83 618.5,514.86 620.0,514.89 621.5,514.94 623.0,515.01 624.5,515.10 626.0,515.22 627.5,515.36 629.0,515.53 630.5,515.73 632.0,515.96 633.5,516.21 635.0,516.49 636.5,516.78 638.0,517.07 639.5,517.35 641.0,517.61 642.5,517.85 644.0,518.06 645.5,518.24 647.0,518.39 648.5,518.52 650.0,518.63 651.5,518.73 653.0,518.82 654.5,518.92 656.0,519.02 657.5,519.13 659.0,519.23 660.5,519.34 662.0,519.45 663.5,519.55 665.0,519.66 666.5,519.78 668.0,519.91 669.5,520.08 671.0,520.28 672.5,520.53 674.0,520.82 675.5,521.16 677.0,521.54 678.5,521.94 680.0,522.35 681.5,522.76 683.0,523.14 684.5,523.49 686.0,523.78 687.5,524.02 689.0,524.21 690.5,524.37 692.0,524.49 693.5,524.61 695.0,524.72 696.5,524.83 698.0,524.95 699.5,525.08 701.0,525.21 702.5,525.33 704.0,525.44 705.5,525.54 707.0,525.63 708.5,525.72 710.0,525.82 711.5,525.96 713.0,526.14 714.5,526.39 716.0,526.71 717.5,527.11 719.0,527.57 720.5,528.10 722.0,528.65 723.5,529.22 725.0,529.77 726.5,530.28 728.0,530.72 729.5,531.09 731.0,531.38 732.5,531.61 734.0,531.77 735.5,531.89 737.0,531.98 738.5,532.07 740.0,532.16 741.5,532.26 743.0,532.37 744.5,532.48 746.0,532.60 747.5,532.70 749.0,532.79 750.5,532.87 752.0,532.94 753.5,533.01 755.0,533.11 756.5,533.26 758.0,533.49 759.5,533.79 761.0,534.19 762.5,534.68 764.0,535.26 765.5,535.89 767.0,536.56 768.5,537.23 770.0,537.86 771.5,538.44 773.0,538.92 774.5,539.32 776.0,539.62 777.5,539.83 779.0,539.97 780.5,540.07 782.0,540.14 783.5,540.21 785.0,540.28 786.5,540.37 788.0,540.47 789.5,540.58 791.0,540.68 792.5,540.78 794.0,540.85 795.5,540.91 797.0,540.96 798.5,541.02 800.0,541.11 801.5,541.26 803.0,541.48 804.5,541.78 806.0,542.16 807.5,542.64 809.0,543.20 810.5,543.83 812.0,544.51 813.5,545.22 815.0,545.92 816.5,546.58 818.0,547.19 819.5,547.72 821.0,548.15 822.5,548.50 824.0,548.75 825.5,548.93 827.0,549.06 828.5,549.15 830.0,549.21 831.5,549.28 833.0,549.35 834.5,549.43 836.0,549.53 837.5,549.63 839.0,549.74 840.5,549.84 842.0,549.93 843.5,550.01 845.0,550.07 846.5,550.12 848.0,550.19 849.5,550.27 851.0,550.40 852.5,550.60 854.0,550.88 855.5,551.25 857.0,551.72 858.5,552.29 860.0,552.94 861.5,553.64 863.0,554.37 864.5,555.10 866.0,555.80 867.5,556.44 869.0,556.99 870.5,557.46 872.0,557.82 873.5,558.08 875.0,558.26 876.5,558.38 878.0,558.45 879.5,558.50 881.0,558.54 882.5,558.59 884.0,558.65 885.5,558.72 887.0,558.81 888.5,558.90 890.0,558.98 891.5,559.05 893.0,559.10 894.5,559.13 896.0,559.16 897.5,559.20 899.0,559.26 900.5,559.37 902.0,559.55 903.5,559.81 905.0,560.14 906.5,560.57 908.0,561.08 909.5,561.67 911.0,562.32 912.5,563.01 914.0,563.71 915.5,564.41 917.0,565.07 918.5,565.67 920.0,566.20 921.5,566.64 923.0,566.99 924.5,567.25 926.0,567.43 927.5,567.55 929.0,567.62 930.5,567.66 932.0,567.69 933.5,567.71 935.0,567.74 936.5,567.79 938.0,567.85 939.5,567.91 941.0,567.98 942.5,568.04 944.0,568.09 945.5,568.12 947.0,568.14 948.5,568.15 950.0,568.16 951.5,568.18 953.0,568.24 954.5,568.34 956.0,568.51 957.5,568.77 959.0,569.11 960.5,569.55 962.0,570.09 963.5,570.69 965.0,571.36 966.5,572.06 968.0,572.76 969.5,573.45 971.0,574.08 972.5,574.64 974.0,575.11 975.5,575.49 977.0,575.77 978.5,575.97 980.0,576.08 981.5,576.14 983.0,576.15 984.5,576.14 986.0,576.13 987.5,576.12 989.0,576.12 990.5,576.14 992.0,576.17 993.5,576.20 995.0,576.23 996.5,576.24 998.0,576.25 999.5,576.23 1001.0,576.21 1002.5,576.19 1004.0,576.17 1005.5,576.19 1007.0,576.25 1008.5,576.38 1010.0,576.59 1011.5,576.89 1013.0,577.28 1014.5,577.76 1016.0,578.32 1017.5,578.95 1019.0,579.62 1020.5,580.31 1022.0,581.00 1023.5,581.65 1025.0,582.25 1026.5,582.78 1028.0,583.22 1029.5,583.57 1031.0,583.83 1032.5,584.00 1034.0,584.10 1035.5,584.14 1037.0,584.15 1038.5,584.13 1040.0,584.11 1041.5,584.08 1043.0,584.07 1044.5,584.07 1046.0,584.08 1047.5,584.09 1049.0,584.09 1050.5,584.09 1052.0,584.07 1053.5,584.03 1055.0,583.97 1056.5,583.92 1058.0,583.87 1059.5,583.85 1061.0,583.88 1062.5,583.98 1064.0,584.14 1065.5,584.38 1067.0,584.70 1068.5,585.09 1070.0,585.55 1071.5,586.08 1073.0,586.65 1074.5,587.25 1076.0,587.86 1077.5,588.46 1079.0,589.04 1080.5,589.57 1082.0,590.06 1083.5,590.49 1085.0,590.85 1086.5,591.16 1088.0,591.41 1089.5,591.60 1091.0,591.74 1092.5,591.83 1094.0,591.87 1095.5,591.85 1097.0,591.76 1098.5,591.62 1100.0,591.42 1101.5,591.18 1103.0,590.90 1104.5,590.60 1106.0,590.28 1107.5,589.95 1109.0,589.62 1110.5,589.30 1112.0,589.01 1113.5,588.76 1115.0,588.54 1116.5,588.37 1118.0,588.26 1119.5,588.21 1121.0,588.23 1122.5,588.31 1124.0,588.45 1125.5,588.64 1127.0,588.88 1128.5,589.18 1130.0,589.52 1131.5,589.91 1133.0,590.33 1134.5,590.77 1136.0,591.24 1137.5,591.73 1139.0,592.21 1140.5,592.70 1142.0,593.17 1143.5,593.62 1145.0,594.04 1146.5,594.43 1148.0,594.77 1149.5,595.07 1151.0,595.30 1152.5,595.47 1154.0,595.58 1155.5,595.63 1157.0,595.62 1158.5,595.55 1160.0,595.42 1161.5,595.25 1163.0,595.02 1164.5,594.76 1166.0,594.46 1167.5,594.14 1169.0,593.79 1170.5,593.44 1172.0,593.09 1173.5,592.75 1175.0,592.42 1176.5,592.12 1178.0,591.85 1179.5,591.62 1181.0,591.44 1182.5,591.30 1184.0,591.22 1185.5,591.20 1187.0,591.24 1188.5,591.33 1190.0,591.48 1191.5,591.68 1193.0,591.93 1194.5,592.23 1196.0,592.57 1197.5,592.95 1199.0,593.36 1200.5,593.79 1202.0,594.24 1203.5,594.70 1205.0,595.16 1206.5,595.62 1208.0,596.07 1209.5,596.49 1211.0,596.89 1212.5,597.26 1214.0,597.58 1215.5,597.87 1217.0,598.10 1218.5,598.28 1220.0,598.41 1221.5,598.47 1223.0,598.49 1224.5,598.44 1226.0,598.34 1227.5,598.19 1229.0,597.99 1230.5,597.74 1232.0,597.46 1233.5,597.14 1235.0,596.80 1236.5,596.43 1238.0,596.05 1239.5,595.67 1241.0,595.29 1242.5,594.92 1244.0,594.57 1245.5,594.24 1247.0,593.94 1248.5,593.68 1250.0,593.47 1251.5,593.30 1253.0,593.18 1254.5,593.11 1256.0,593.09 1257.5,593.13 1259.0,593.23 1260.5,593.37 1262.0,593.56 1263.5,593.80 1265.0,594.08 1266.5,594.39 1268.0,594.74 1269.5,595.11 1271.0,595.50 1272.5,595.90 1274.0,596.30 1275.5,596.70 1277.0,597.09 1278.5,597.46 1280.0,597.80 1281.5,598.12 1283.0,598.39 1284.5,598.63 1286.0,598.82 1287.5,598.96 1289.0,599.04 1290.5,599.07 1292.0,599.05 1293.5,598.97 1295.0,598.83 1296.5,598.65 1298.0,598.41 1299.5,598.13 1301.0,597.81 1302.5,597.46 1304.0,597.07 1305.5,596.66 1307.0,596.24 1308.5,595.81 1310.0,595.37 1311.5,594.95 1313.0,594.53 1314.5,594.14 1316.0,593.77 1317.5,593.44 1319.0,593.14 1320.5,592.89 1322.0,592.68 1323.5,592.52 1325.0,592.42 1326.5,592.36 1328.0,592.36 1329.5,592.39 1331.0,592.47 1332.5,592.59 1334.0,592.75 1335.5,592.95 1337.0,593.17 1338.5,593.43 1340.0,593.70 1341.5,593.99 1343.0,594.30 1344.5,594.61 1346.0,594.92 1347.5,595.23 1349.0,595.52 1350.5,595.80 1352.0,596.06 1353.5,596.29 1355.0,596.50 1356.5,596.66 1358.0,596.79 1359.5,596.88 1361.0,596.92 1362.5,596.92 1364.0,596.87 1365.5,596.77 1367.0,596.62 1368.5,596.44 1370.0,596.20 1371.5,595.93 1373.0,595.61 1374.5,595.26 1376.0,594.89 1377.5,594.48 1379.0,594.05 1380.5,593.61 1382.0,593.16 1383.5,592.70 1385.0,592.25 1386.5,591.80 1388.0,591.36 1389.5,590.94 1391.0,590.54 1392.5,590.17 1394.0,589.83 1395.5,589.53 1397.0,589.27 1398.5,589.04 1400.0,588.87 1401.5,588.74 1403.0,588.66 1404.5,588.63 1406.0,588.66 1407.5,588.73 1409.0,588.85 1410.5,589.01 1412.0,589.20 1413.5,589.43 1415.0,589.68 1416.5,589.95 1418.0,590.23 1419.5,590.52 1421.0,590.80 1422.5,591.07 1424.0,591.32 1425.5,591.55 1427.0,591.75 1428.5,591.92 1430.0,592.05 1431.5,592.13 1433.0,592.18 1434.5,592.17 1436.0,592.12 1437.5,592.02 1439.0,591.87 1440.5,591.67 1442.0,591.42 1443.5,591.12 1445.0,590.78 1446.5,590.40 1448.0,589.98 1449.5,589.53 1451.0,589.06 1452.5,588.57 1454.0,588.06 1455.5,587.56 1457.0,587.06 1458.5,586.58 1460.0,586.12 1461.5,585.68 1463.0,585.28 1464.5,584.92 1466.0,584.61 1467.5,584.34 1469.0,584.13 1470.5,583.96 1472.0,583.84 1473.5,583.77 1475.0,583.72 1476.5,583.78 1478.0,583.90 1479.5,584.07 1481.0,584.28 1482.5,584.51 1484.0,584.76 1485.5,585.01 1487.0,585.24 1488.5,585.45 1490.0,585.62 1491.5,585.75 1493.0,585.85 1494.5,585.91 1496.0,585.89 1497.5,585.83 1499.0,585.75 1500.5,585.67 1502.0,585.58 1503.5,585.48 1505.0,585.37 1506.5,585.26 1508.0,585.14 1509.5,585.01 1511.0,584.88 1512.5,584.75 1514.0,584.59 1515.5,584.37 1517.0,584.08 1518.5,583.74 1520.0,583.35 1521.5,582.93 1523.0,582.49 1524.5,582.03 1526.0,581.57 1527.5,581.11 1529.0,580.66 1530.5,580.24 1532.0,579.86 1533.5,579.51 1535.0,579.23 1536.5,579.00 1538.0,578.81 1539.5,578.62 1541.0,578.43 1542.5,578.25 1544.0,578.07 1545.5,577.91 1547.0,577.75 1548.5,577.60 1550.0,577.46 1551.5,577.34 1553.0,577.23 1554.5,577.15 1556.0,577.08 1557.5,577.03 1559.0,577.00 1560.5,577.00 1562.0,577.04 1563.5,577.10 1565.0,577.19 1566.5,577.30 1568.0,577.43 1569.5,577.57 1571.0,577.71 1572.5,577.86 1574.0,578.00 1575.5,578.13 1577.0,578.25 1578.5,578.35 1580.0,578.43 1581.5,578.48 1583.0,578.50 1584.5,578.48 1586.0,578.44 1587.5,578.36 1589.0,578.26 1590.5,578.13 1592.0,577.98 1593.5,577.80 1595.0,577.61 1596.5,577.40 1598.0,577.17 1599.5,576.93 1601.0,576.67 1602.5,576.41 1604.0,576.13 1605.5,575.85 1607.0,575.55 1608.5,575.09 1610.0,574.51 1611.5,573.85 1613.0,573.18 1614.5,572.54 1616.0,571.99 1617.5,571.59 1619.0,571.35 1620.5,571.16 1622.0,571.00 1623.5,570.87 1625.0,570.77 1626.5,570.67 1628.0,570.58 1629.5,570.48 1631.0,570.37 1632.5,570.24 1634.0,570.08 1635.5,569.89 1637.0,569.65 1638.5,569.12 1640.0,568.60 1641.5,568.61 1643.0,568.63 1644.5,568.67 1646.0,568.72 1647.5,568.77 1649.0,568.84 1650.5,568.90 1652.0,568.97 1653.5,569.04 1655.0,569.10 1656.5,569.16 1658.0,569.22 1659.5,569.26 1661.0,569.29 1662.5,569.30 1664.0,569.30 1665.5,569.28 1667.0,569.24 1668.5,569.20 1670.0,569.14 1671.5,569.06 1673.0,568.98 1674.5,568.88 1676.0,568.77 1677.5,568.66 1679.0,568.53 1680.5,568.40 1682.0,568.26 1683.5,568.11 1685.0,567.96 1686.5,567.80 1688.0,567.58 1689.5,567.25 1691.0,566.82 1692.5,566.32 1694.0,565.76 1695.5,565.16 1697.0,564.52 1698.5,563.88 1700.0,563.24 1701.5,562.63 1703.0,562.05 1704.5,561.54 1706.0,561.09 1707.5,560.73 1709.0,560.48 1710.5,560.34 1712.0,560.22 1713.5,560.11 1715.0,560.00 1716.5,559.90 1718.0,559.80 1719.5,559.71 1721.0,559.63 1722.5,559.56 1724.0,559.49 1725.5,559.44 1727.0,559.39 1728.5,559.35 1730.0,559.32 1731.5,559.31 1733.0,559.30 1734.5,559.30 1736.0,559.32 1737.5,559.34 1739.0,559.37 1740.5,559.40 1742.0,559.43 1743.5,559.47 1745.0,559.51 1746.5,559.55 1748.0,559.58 1749.5,559.62 1751.0,559.65 1752.5,559.67 1754.0,559.69 1755.5,559.70 1757.0,559.70 1758.5,559.67 1760.0,559.63 1761.5,559.56 1763.0,559.48 1764.5,559.37 1766.0,559.25 1767.5,559.12 1769.0,558.97 1770.5,558.81 1772.0,558.64 1773.5,558.46 1775.0,558.28 1776.5,558.09 1778.0,557.90 1779.5,557.70 1781.0,557.48 1782.5,557.20 1784.0,556.88 1785.5,556.54 1787.0,556.17 1788.5,555.80 1790.0,555.42 1791.5,555.00 1793.0,554.53 1794.5,554.03 1796.0,553.52 1797.5,553.04 1799.0,552.59 1800.5,552.22 1802.0,551.93 1803.5,551.67 1805.0,551.41 1806.5,551.16 1808.0,550.93 1809.5,550.70 1811.0,550.50 1812.5,550.32 1814.0,550.16 1815.5,550.04 1817.0,549.96 1818.5,549.91 1820.0,549.90 1821.5,549.90 1823.0,549.90 1824.5,549.90 1826.0,549.90 1827.5,549.90 1829.0,549.90 1830.5,549.90 1832.0,549.90 1833.5,549.90 1835.0,549.90 1836.5,549.90 1838.0,549.89 1839.5,549.86 1841.0,549.80 1842.5,549.72 1844.0,549.62 1845.5,549.53 1847.0,549.44" stroke="#2e9469" stroke-width="12"/><polyline points="284.0,597.74 285.5,595.66 287.0,593.90 288.5,592.52 290.0,591.59 291.5,591.08 293.0,590.86 294.5,590.73 296.0,590.45 297.5,589.82 299.0,588.78 300.5,587.37 302.0,585.76 303.5,584.16 305.0,582.75 306.5,581.64 308.0,580.82 309.5,580.20 311.0,579.63 312.5,578.98 314.0,578.15 315.5,577.17 317.0,576.15 318.5,575.23 320.0,574.53 321.5,574.05 323.0,573.71 324.5,573.33 326.0,572.72 327.5,571.73 329.0,570.32 330.5,568.58 332.0,566.69 333.5,564.91 335.0,563.44 336.5,562.43 338.0,561.85 339.5,561.59 341.0,561.47 342.5,561.29 344.0,560.96 345.5,560.46 347.0,559.87 348.5,559.31 350.0,558.89 351.5,558.61 353.0,558.42 354.5,558.16 356.0,557.64 357.5,556.72 359.0,555.37 360.5,553.67 362.0,551.83 363.5,550.08 365.0,548.65 366.5,547.66 368.0,547.11 369.5,546.88 371.0,546.75 372.5,546.62 374.0,546.42 375.5,546.10 377.0,545.69 378.5,545.27 380.0,544.90 381.5,544.64 383.0,544.51 384.5,544.44 386.0,544.34 387.5,544.08 389.0,543.55 390.5,542.69 392.0,541.50 393.5,540.07 395.0,538.53 396.5,537.06 398.0,535.81 399.5,534.87 401.0,534.29 402.5,534.02 404.0,533.95 405.5,533.97 407.0,533.96 408.5,533.85 410.0,533.64 411.5,533.35 413.0,533.08 414.5,532.89 416.0,532.80 417.5,532.78 419.0,532.76 420.5,532.63 422.0,532.30 423.5,531.71 425.0,530.86" stroke="#2e9469" stroke-width="13.6" stroke-linecap="round"/><polyline points="425.0,530.86 426.5,529.81 428.0,528.69 429.5,527.61 431.0,526.69 432.5,525.99 434.0,525.54 435.5,525.29 437.0,525.18 438.5,525.10 440.0,525.02 441.5,524.87 443.0,524.67 444.5,524.41 446.0,524.13 447.5,523.85 449.0,523.59" stroke="#2e9469" stroke-width="13.0" stroke-linecap="round"/><polyline points="450.5,523.35 452.0,523.14 453.5,522.94 455.0,522.73 456.5,522.47 458.0,522.15 459.5,521.76 461.0,521.30 462.5,520.81 464.0,520.31 465.5,519.84 467.0,519.42 468.5,519.08 470.0,518.83 471.5,518.63 473.0,518.48 474.5,518.35 476.0,518.22 477.5,518.07" stroke="#2e9469" stroke-width="12.5" stroke-linecap="round"/><polyline points="1500.5,585.67 1502.0,585.58 1503.5,585.48 1505.0,585.37 1506.5,585.26 1508.0,585.14 1509.5,585.01 1511.0,584.88 1512.5,584.75 1514.0,584.59 1515.5,584.37 1517.0,584.08 1518.5,583.74 1520.0,583.35 1521.5,582.93 1523.0,582.49 1524.5,582.03 1526.0,581.57 1527.5,581.11 1529.0,580.66 1530.5,580.24 1532.0,579.86 1533.5,579.51 1535.0,579.23 1536.5,579.00 1538.0,578.81 1539.5,578.62" stroke="#2e9469" stroke-width="13" stroke-linecap="round"/><polyline points="1541.0,578.43 1542.5,578.25 1544.0,578.07 1545.5,577.91 1547.0,577.75 1548.5,577.60 1550.0,577.46 1551.5,577.34 1553.0,577.23 1554.5,577.15 1556.0,577.08 1557.5,577.03 1559.0,577.00 1560.5,577.00 1562.0,577.04 1563.5,577.10 1565.0,577.19 1566.5,577.30 1568.0,577.43 1569.5,577.57 1571.0,577.71 1572.5,577.86 1574.0,578.00 1575.5,578.13 1577.0,578.25 1578.5,578.35 1580.0,578.43" stroke="#2e9469" stroke-width="14" stroke-linecap="round"/><polyline points="1580.0,578.43 1581.5,578.48 1583.0,578.50 1584.5,578.48 1586.0,578.44 1587.5,578.36 1589.0,578.26 1590.5,578.13 1592.0,577.98 1593.5,577.80 1595.0,577.61 1596.5,577.40 1598.0,577.17 1599.5,576.93 1601.0,576.67 1602.5,576.41 1604.0,576.13 1605.5,575.85 1607.0,575.55 1608.5,575.09 1610.0,574.51 1611.5,573.85 1613.0,573.18 1614.5,572.54 1616.0,571.99 1617.5,571.59 1619.0,571.35 1620.5,571.16 1622.0,571.00 1623.5,570.87 1625.0,570.77 1626.5,570.67 1628.0,570.58 1629.5,570.48 1631.0,570.37 1632.5,570.24 1634.0,570.08 1635.5,569.89 1637.0,569.65 1638.5,569.12 1640.0,568.60 1641.5,568.61 1643.0,568.63 1644.5,568.67 1646.0,568.72 1647.5,568.77 1649.0,568.84 1650.5,568.90 1652.0,568.97 1653.5,569.04 1655.0,569.10 1656.5,569.16 1658.0,569.22 1659.5,569.26 1661.0,569.29 1662.5,569.30 1664.0,569.30 1665.5,569.28 1667.0,569.24 1668.5,569.20 1670.0,569.14 1671.5,569.06 1673.0,568.98 1674.5,568.88 1676.0,568.77 1677.5,568.66 1679.0,568.53 1680.5,568.40 1682.0,568.26 1683.5,568.11 1685.0,567.96 1686.5,567.80 1688.0,567.58 1689.5,567.25 1691.0,566.82 1692.5,566.32 1694.0,565.76 1695.5,565.16 1697.0,564.52 1698.5,563.88 1700.0,563.24 1701.5,562.63 1703.0,562.05 1704.5,561.54 1706.0,561.09 1707.5,560.73 1709.0,560.48 1710.5,560.34 1712.0,560.22 1713.5,560.11 1715.0,560.00 1716.5,559.90 1718.0,559.80 1719.5,559.71 1721.0,559.63 1722.5,559.56 1724.0,559.49 1725.5,559.44 1727.0,559.39 1728.5,559.35 1730.0,559.32 1731.5,559.31 1733.0,559.30 1734.5,559.30 1736.0,559.32 1737.5,559.34 1739.0,559.37 1740.5,559.40 1742.0,559.43 1743.5,559.47 1745.0,559.51 1746.5,559.55 1748.0,559.58 1749.5,559.62 1751.0,559.65 1752.5,559.67 1754.0,559.69 1755.5,559.70 1757.0,559.70 1758.5,559.67 1760.0,559.63 1761.5,559.56 1763.0,559.48 1764.5,559.37 1766.0,559.25 1767.5,559.12 1769.0,558.97 1770.5,558.81 1772.0,558.64 1773.5,558.46 1775.0,558.28 1776.5,558.09 1778.0,557.90 1779.5,557.70 1781.0,557.48 1782.5,557.20 1784.0,556.88 1785.5,556.54 1787.0,556.17 1788.5,555.80 1790.0,555.42 1791.5,555.00 1793.0,554.53 1794.5,554.03 1796.0,553.52 1797.5,553.04 1799.0,552.59 1800.5,552.22 1802.0,551.93 1803.5,551.67 1805.0,551.41 1806.5,551.16 1808.0,550.93 1809.5,550.70 1811.0,550.50 1812.5,550.32 1814.0,550.16 1815.5,550.04 1817.0,549.96 1818.5,549.91 1820.0,549.90 1821.5,549.90 1823.0,549.90 1824.5,549.90 1826.0,549.90 1827.5,549.90 1829.0,549.90 1830.5,549.90 1832.0,549.90 1833.5,549.90 1835.0,549.90 1836.5,549.90 1838.0,549.89 1839.5,549.86 1841.0,549.80 1842.5,549.72 1844.0,549.62 1845.5,549.53 1847.0,549.44" stroke="#2e9469" stroke-width="14.8" stroke-linecap="round"/></g><line x1="1846.0" y1="261.1" x2="1846.0" y2="1056.5" stroke="#808080" stroke-width="3"/><line x1="275.0" y1="1043.5" x2="1846.0" y2="1043.5" stroke="#111" stroke-width="2.5"/><line x1="290.0" y1="261.1" x2="290.0" y2="1056.5" stroke="#333" stroke-width="2.5"/><rect x="1398.5" y="77.5" width="495" height="72" fill="#fff" stroke="#3a3a3a" stroke-width="2.8"/><g stroke-width="10" stroke-linecap="round"><line x1="1416" y1="113.5" x2="1500.5" y2="113.5" stroke="#e3140f"/><line x1="1566.3" y1="113.3" x2="1651.2" y2="113.3" stroke="#3868e6"/><line x1="1719.7" y1="113.6" x2="1804.6" y2="113.6" stroke="#2e8a68"/></g><text x="121.80" y="115.90" font-size="53.4" textLength="231.32" lengthAdjust="spacingAndGlyphs">Efficiency</text><text x="362.80" y="115.90" font-size="53.4" textLength="154.87" lengthAdjust="spacingAndGlyphs">versus</text><text x="538.80" y="115.90" font-size="53.4" textLength="279.97" lengthAdjust="spacingAndGlyphs">Wavelength</text><text x="872.80" y="115.90" font-size="53.4" textLength="88.29" lengthAdjust="spacingAndGlyphs">360</text><text x="978.30" y="115.90" font-size="53.4" textLength="135.52" lengthAdjust="spacingAndGlyphs">lpmm</text><text x="1151.80" y="115.90" font-size="53.4" textLength="87.49" lengthAdjust="spacingAndGlyphs">550</text><text x="1253.30" y="115.90" font-size="53.4" textLength="76.17" lengthAdjust="spacingAndGlyphs">nm</text><text x="165.77" y="1057.60" font-size="45.5" textLength="85.56" lengthAdjust="spacingAndGlyphs">0.00</text><text x="165.77" y="979.00" font-size="45.5" textLength="85.56" lengthAdjust="spacingAndGlyphs">0.10</text><text x="165.77" y="900.80" font-size="45.5" textLength="85.56" lengthAdjust="spacingAndGlyphs">0.20</text><text x="165.77" y="822.80" font-size="45.5" textLength="85.56" lengthAdjust="spacingAndGlyphs">0.30</text><text x="165.77" y="744.40" font-size="45.5" textLength="85.56" lengthAdjust="spacingAndGlyphs">0.40</text><text x="165.77" y="667.50" font-size="45.5" textLength="85.56" lengthAdjust="spacingAndGlyphs">0.50</text><text x="165.77" y="589.10" font-size="45.5" textLength="85.56" lengthAdjust="spacingAndGlyphs">0.60</text><text x="165.77" y="511.00" font-size="45.5" textLength="85.56" lengthAdjust="spacingAndGlyphs">0.70</text><text x="165.77" y="432.30" font-size="45.5" textLength="85.56" lengthAdjust="spacingAndGlyphs">0.80</text><text x="164.27" y="353.50" font-size="45.5" textLength="86.76" lengthAdjust="spacingAndGlyphs">0.90</text><text x="166.27" y="275.65" font-size="45.5" textLength="84.96" lengthAdjust="spacingAndGlyphs">1.00</text><text x="252.77" y="1110.50" font-size="45.5" textLength="73.92" lengthAdjust="spacingAndGlyphs">400</text><text x="563.27" y="1110.50" font-size="45.5" textLength="75.32" lengthAdjust="spacingAndGlyphs">500</text><text x="873.77" y="1110.50" font-size="45.5" textLength="76.32" lengthAdjust="spacingAndGlyphs">600</text><text x="1186.27" y="1110.50" font-size="45.5" textLength="74.92" lengthAdjust="spacingAndGlyphs">700</text><text x="1497.77" y="1110.50" font-size="45.5" textLength="73.92" lengthAdjust="spacingAndGlyphs">800</text><text x="1809.77" y="1110.50" font-size="45.5" textLength="73.92" lengthAdjust="spacingAndGlyphs">900</text><text x="939.73" y="1188.70" font-size="54.5" textLength="283.38" lengthAdjust="spacingAndGlyphs">Wavelength</text><text transform="translate(133.3,882.36) rotate(-90)" x="0" y="0" font-size="54.5" textLength="478.69" lengthAdjust="spacingAndGlyphs">Diffraction efficiency</text><text x="1509.28" y="125.20" font-size="37" textLength="42.99" lengthAdjust="spacingAndGlyphs" style="fill:#2b302e">Es</text><text x="1659.78" y="125.20" font-size="37" textLength="45.67" lengthAdjust="spacingAndGlyphs" style="fill:#2b302e">Ep</text><text x="1811.78" y="125.20" font-size="37" textLength="80.74" lengthAdjust="spacingAndGlyphs" style="fill:#2b302e">Eavg</text></svg>
</body></html>
